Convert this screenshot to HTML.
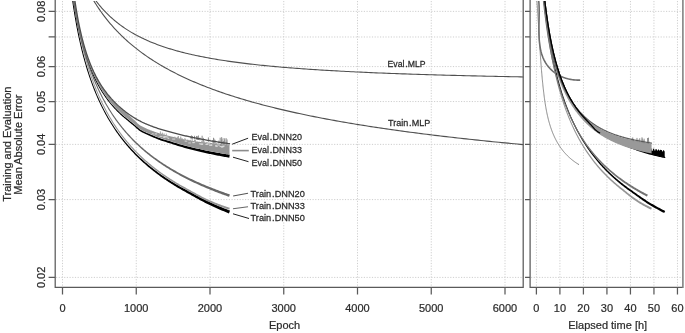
<!DOCTYPE html>
<html><head><meta charset="utf-8"><style>
html,body{margin:0;padding:0;background:#fff;width:685px;height:333px;overflow:hidden}
svg{display:block}
text{font-family:"Liberation Sans",sans-serif}
</style></head><body>
<svg width="685" height="333" viewBox="0 0 685 333"><defs><clipPath id="cl"><rect x="55.5" y="1" width="468" height="286"/></clipPath><clipPath id="cr"><rect x="530.5" y="1" width="152" height="286"/></clipPath></defs><path d="M56,277.40 H523 M531,277.40 H682 M56,199.59 H523 M531,199.59 H682 M56,144.39 H523 M531,144.39 H682 M56,101.56 H523 M531,101.56 H682 M56,66.58 H523 M531,66.58 H682 M56,36.99 H523 M531,36.99 H682 M56,11.37 H523 M531,11.37 H682 M62.50,1 V287 M136.25,1 V287 M210.00,1 V287 M283.75,1 V287 M357.50,1 V287 M431.25,1 V287 M505.00,1 V287 M536.40,1 V287 M559.91,1 V287 M583.42,1 V287 M606.93,1 V287 M630.44,1 V287 M653.95,1 V287 M677.46,1 V287" stroke="#cfcfcf" stroke-width="1" stroke-dasharray="1.2 1.5" fill="none"/><g clip-path="url(#cl)" fill="none" stroke-linejoin="round" stroke-linecap="round"><path d="M91.12,-5.98 L91.93,-4.76 L92.76,-3.56 L93.59,-2.37 L94.44,-1.19 L95.29,-0.02 L96.16,1.14 L97.04,2.28 L97.92,3.40 L98.82,4.52 L99.73,5.62 L100.65,6.71 L101.58,7.78 L102.52,8.84 L103.46,9.89 L104.42,10.92 L105.39,11.94 L106.38,12.95 L107.37,13.94 L108.37,14.92 L109.38,15.89 L110.40,16.84 L111.43,17.78 L112.48,18.71 L113.53,19.63 L114.59,20.53 L115.67,21.42 L116.75,22.30 L117.85,23.16 L118.95,24.01 L120.07,24.85 L121.19,25.68 L122.33,26.49 L123.48,27.30 L124.63,28.09 L125.80,28.87 L126.98,29.64 L128.17,30.39 L129.37,31.14 L130.57,31.87 L131.79,32.60 L133.02,33.31 L134.26,34.01 L135.51,34.70 L136.77,35.38 L138.05,36.05 L139.33,36.71 L140.62,37.36 L141.92,37.99 L143.23,38.62 L144.56,39.24 L145.89,39.85 L147.23,40.45 L148.59,41.04 L149.95,41.63 L151.33,42.20 L152.71,42.76 L154.11,43.32 L155.52,43.86 L156.93,44.40 L158.36,44.93 L159.80,45.45 L161.24,45.97 L162.70,46.47 L164.17,46.97 L165.65,47.46 L167.14,47.94 L168.64,48.41 L170.15,48.88 L171.67,49.34 L173.20,49.79 L174.74,50.24 L176.29,50.67 L177.85,51.11 L179.42,51.53 L181.01,51.95 L182.60,52.36 L184.20,52.77 L185.82,53.16 L187.44,53.56 L189.07,53.94 L190.72,54.32 L192.37,54.70 L194.04,55.07 L195.71,55.43 L197.40,55.79 L199.10,56.14 L200.80,56.49 L202.52,56.83 L204.25,57.16 L205.99,57.50 L207.74,57.82 L209.50,58.14 L211.26,58.46 L213.04,58.77 L214.83,59.08 L216.63,59.38 L218.45,59.67 L220.27,59.97 L222.10,60.26 L223.94,60.54 L225.79,60.82 L227.65,61.09 L229.53,61.37 L231.41,61.63 L233.31,61.90 L235.21,62.16 L237.12,62.41 L239.05,62.66 L240.98,62.91 L242.93,63.16 L244.89,63.40 L246.85,63.63 L248.83,63.87 L250.82,64.10 L252.81,64.32 L254.82,64.55 L256.84,64.77 L258.87,64.98 L260.91,65.20 L262.96,65.41 L265.02,65.62 L267.09,65.82 L269.17,66.02 L271.26,66.22 L273.36,66.42 L275.47,66.61 L277.59,66.80 L279.73,66.99 L281.87,67.18 L284.02,67.36 L286.19,67.54 L288.36,67.72 L290.54,67.89 L292.74,68.06 L294.94,68.23 L297.16,68.40 L299.38,68.57 L301.62,68.73 L303.87,68.89 L306.12,69.05 L308.39,69.21 L310.67,69.36 L312.96,69.51 L315.26,69.66 L317.56,69.81 L319.88,69.96 L322.21,70.10 L324.55,70.24 L326.90,70.38 L329.26,70.52 L331.64,70.66 L334.02,70.79 L336.41,70.92 L338.81,71.06 L341.22,71.18 L343.65,71.31 L346.08,71.44 L348.52,71.56 L350.98,71.68 L353.44,71.81 L355.92,71.93 L358.40,72.04 L360.90,72.16 L363.40,72.27 L365.92,72.39 L368.45,72.50 L370.98,72.61 L373.53,72.72 L376.09,72.83 L378.66,72.93 L381.24,73.04 L383.83,73.14 L386.43,73.24 L389.04,73.34 L391.66,73.44 L394.29,73.54 L396.93,73.64 L399.58,73.73 L402.24,73.83 L404.91,73.92 L407.59,74.02 L410.29,74.11 L412.99,74.20 L415.70,74.29 L418.43,74.37 L421.16,74.46 L423.91,74.55 L426.66,74.63 L429.43,74.71 L432.20,74.80 L434.99,74.88 L437.79,74.96 L440.59,75.04 L443.41,75.12 L446.24,75.20 L449.08,75.27 L451.92,75.35 L454.78,75.42 L457.65,75.50 L460.53,75.57 L463.42,75.64 L466.32,75.71 L469.23,75.78 L472.15,75.85 L475.09,75.92 L478.03,75.99 L480.98,76.06 L483.94,76.13 L486.92,76.19 L489.90,76.26 L492.89,76.32 L495.90,76.38 L498.91,76.45 L501.94,76.51 L504.97,76.57 L508.02,76.63 L511.07,76.69 L514.14,76.75 L517.22,76.81 L520.30,76.87 L523.40,76.93" stroke="#505050" stroke-width="1.1"/><path d="M90.31,-5.19 L91.12,-3.76 L91.93,-2.35 L92.76,-0.94 L93.59,0.45 L94.44,1.84 L95.29,3.21 L96.16,4.57 L97.04,5.93 L97.92,7.27 L98.82,8.60 L99.73,9.92 L100.65,11.23 L101.58,12.53 L102.52,13.83 L103.46,15.11 L104.42,16.38 L105.39,17.64 L106.38,18.88 L107.37,20.12 L108.37,21.35 L109.38,22.57 L110.40,23.78 L111.43,24.98 L112.48,26.17 L113.53,27.35 L114.59,28.52 L115.67,29.67 L116.75,30.82 L117.85,31.96 L118.95,33.09 L120.07,34.21 L121.19,35.32 L122.33,36.43 L123.48,37.52 L124.63,38.60 L125.80,39.68 L126.98,40.74 L128.17,41.80 L129.37,42.84 L130.57,43.88 L131.79,44.91 L133.02,45.93 L134.26,46.94 L135.51,47.94 L136.77,48.94 L138.05,49.92 L139.33,50.90 L140.62,51.87 L141.92,52.83 L143.23,53.78 L144.56,54.73 L145.89,55.66 L147.23,56.59 L148.59,57.51 L149.95,58.43 L151.33,59.33 L152.71,60.23 L154.11,61.12 L155.52,62.01 L156.93,62.88 L158.36,63.75 L159.80,64.61 L161.24,65.46 L162.70,66.31 L164.17,67.15 L165.65,67.98 L167.14,68.81 L168.64,69.63 L170.15,70.44 L171.67,71.25 L173.20,72.05 L174.74,72.84 L176.29,73.63 L177.85,74.41 L179.42,75.18 L181.01,75.95 L182.60,76.71 L184.20,77.46 L185.82,78.21 L187.44,78.96 L189.07,79.69 L190.72,80.42 L192.37,81.15 L194.04,81.87 L195.71,82.58 L197.40,83.29 L199.10,83.99 L200.80,84.69 L202.52,85.38 L204.25,86.07 L205.99,86.75 L207.74,87.42 L209.50,88.09 L211.26,88.76 L213.04,89.42 L214.83,90.07 L216.63,90.72 L218.45,91.37 L220.27,92.01 L222.10,92.64 L223.94,93.27 L225.79,93.90 L227.65,94.52 L229.53,95.13 L231.41,95.74 L233.31,96.35 L235.21,96.95 L237.12,97.55 L239.05,98.14 L240.98,98.73 L242.93,99.31 L244.89,99.89 L246.85,100.47 L248.83,101.04 L250.82,101.61 L252.81,102.17 L254.82,102.73 L256.84,103.28 L258.87,103.83 L260.91,104.38 L262.96,104.92 L265.02,105.46 L267.09,106.00 L269.17,106.53 L271.26,107.06 L273.36,107.58 L275.47,108.10 L277.59,108.61 L279.73,109.13 L281.87,109.64 L284.02,110.14 L286.19,110.64 L288.36,111.14 L290.54,111.63 L292.74,112.13 L294.94,112.61 L297.16,113.10 L299.38,113.58 L301.62,114.06 L303.87,114.53 L306.12,115.00 L308.39,115.47 L310.67,115.93 L312.96,116.39 L315.26,116.85 L317.56,117.31 L319.88,117.76 L322.21,118.21 L324.55,118.65 L326.90,119.10 L329.26,119.54 L331.64,119.97 L334.02,120.41 L336.41,120.84 L338.81,121.27 L341.22,121.69 L343.65,122.12 L346.08,122.54 L348.52,122.95 L350.98,123.37 L353.44,123.78 L355.92,124.19 L358.40,124.60 L360.90,125.00 L363.40,125.40 L365.92,125.80 L368.45,126.20 L370.98,126.59 L373.53,126.98 L376.09,127.37 L378.66,127.75 L381.24,128.14 L383.83,128.52 L386.43,128.90 L389.04,129.27 L391.66,129.65 L394.29,130.02 L396.93,130.39 L399.58,130.76 L402.24,131.12 L404.91,131.48 L407.59,131.84 L410.29,132.20 L412.99,132.56 L415.70,132.91 L418.43,133.26 L421.16,133.61 L423.91,133.96 L426.66,134.30 L429.43,134.65 L432.20,134.99 L434.99,135.33 L437.79,135.66 L440.59,136.00 L443.41,136.33 L446.24,136.66 L449.08,136.99 L451.92,137.32 L454.78,137.64 L457.65,137.96 L460.53,138.28 L463.42,138.60 L466.32,138.92 L469.23,139.24 L472.15,139.55 L475.09,139.86 L478.03,140.17 L480.98,140.48 L483.94,140.79 L486.92,141.09 L489.90,141.39 L492.89,141.69 L495.90,141.99 L498.91,142.29 L501.94,142.59 L504.97,142.88 L508.02,143.17 L511.07,143.46 L514.14,143.75 L517.22,144.04 L520.30,144.33 L523.40,144.61" stroke="#505050" stroke-width="1.1"/><path d="M71.53,-3.86 L71.84,-1.61 L72.15,0.61 L72.47,2.81 L72.79,4.99 L73.12,7.14 L73.44,9.26 L73.78,11.37 L74.11,13.45 L74.45,15.51 L74.80,17.54 L75.15,19.55 L75.50,21.55 L75.86,23.52 L76.21,25.47 L76.58,27.39 L76.95,29.30 L77.32,31.19 L77.69,33.06 L78.07,34.91 L78.45,36.73 L78.84,38.54 L79.23,40.33 L79.62,42.11 L80.02,43.86 L80.42,45.60 L80.83,47.31 L81.24,49.02 L81.65,50.70 L82.07,52.37 L82.49,54.02 L82.91,55.65 L83.34,57.27 L83.77,58.87 L84.21,60.45 L84.65,62.02 L85.09,63.58 L85.54,65.12 L85.99,66.64 L86.45,68.15 L86.90,69.64 L87.37,71.13 L87.83,72.59 L88.30,74.04 L88.78,75.48 L89.26,76.91 L89.74,78.32 L90.22,79.72 L90.71,81.10 L91.21,82.48 L91.70,83.84 L92.20,85.19 L92.71,86.52 L93.22,87.84 L93.73,89.16 L94.25,90.45 L94.77,91.74 L95.29,93.02 L95.82,94.28 L96.35,95.54 L96.88,96.78 L97.42,98.01 L97.97,99.23 L98.51,100.44 L99.06,101.64 L99.62,102.83 L100.18,104.01 L100.74,105.17 L101.31,106.33 L101.87,107.48 L102.45,108.62 L103.03,109.75 L103.61,110.87 L104.19,111.98 L104.78,113.08 L105.37,114.17 L105.97,115.25 L106.57,116.33 L107.17,117.39 L107.78,118.45 L108.39,119.49 L109.01,120.53 L109.63,121.56 L110.25,122.59 L110.87,123.60 L111.50,124.61 L112.13,125.61 L112.76,126.60 L113.40,127.59 L114.04,128.56 L114.69,129.53 L115.34,130.49 L115.99,131.45 L116.65,132.39 L117.31,133.33 L117.97,134.26 L118.64,135.19 L119.31,136.11 L119.99,137.02 L120.67,137.92 L121.35,138.82 L122.04,139.71 L122.73,140.59 L123.43,141.47 L124.13,142.34 L124.83,143.21 L125.54,144.06 L126.25,144.91 L126.97,145.76 L127.68,146.60 L128.41,147.43 L129.13,148.26 L129.86,149.08 L130.60,149.89 L131.33,150.70 L132.08,151.51 L132.82,152.30 L133.57,153.10 L134.32,153.88 L135.08,154.66 L135.84,155.44 L136.61,156.21 L137.38,156.97 L138.15,157.73 L138.92,158.49 L139.70,159.23 L140.49,159.98 L141.28,160.72 L142.07,161.45 L142.86,162.18 L143.66,162.90 L144.46,163.62 L145.27,164.33 L146.08,165.04 L146.90,165.74 L147.72,166.44 L148.54,167.14 L149.36,167.83 L150.19,168.51 L151.03,169.19 L151.87,169.87 L152.71,170.54 L153.55,171.21 L154.40,171.87 L155.25,172.53 L156.11,173.19 L156.97,173.84 L157.84,174.48 L158.70,175.12 L159.58,175.76 L160.45,176.39 L161.33,177.02 L162.22,177.65 L163.10,178.27 L163.99,178.89 L164.89,179.50 L165.79,180.11 L166.69,180.72 L167.60,181.32 L168.51,181.92 L169.42,182.51 L170.34,183.10 L171.26,183.69 L172.19,184.27 L173.12,184.85 L174.05,185.43 L174.99,186.00 L175.93,186.57 L176.87,187.14 L177.82,187.70 L178.78,188.26 L179.73,188.82 L180.69,189.37 L181.66,189.92 L182.62,190.46 L183.60,191.01 L184.57,191.55 L185.54,192.08 L186.52,192.63 L187.50,193.17 L188.49,193.72 L189.48,194.28 L190.47,194.83 L191.47,195.39 L192.47,195.95 L193.48,196.52 L194.49,197.08 L195.50,197.64 L196.52,198.21 L197.54,198.77 L198.57,199.33 L199.60,199.90 L200.64,200.45 L201.68,201.01 L202.73,201.56 L203.77,202.11 L204.83,202.65 L205.89,203.19 L206.95,203.72 L208.02,204.24 L209.09,204.76 L210.16,205.27 L211.24,205.77 L212.31,206.27 L213.40,206.77 L214.48,207.27 L215.57,207.76 L216.67,208.25 L217.77,208.73 L218.87,209.21 L219.97,209.69 L221.08,210.17 L222.20,210.64 L223.31,211.11 L224.43,211.58 L225.56,212.04 L226.69,212.50 L227.82,212.96 L228.96,213.41 L230.04,210.61 L228.91,210.18 L227.78,209.74 L226.65,209.31 L225.53,208.87 L224.41,208.42 L223.30,207.97 L222.19,207.52 L221.08,207.07 L219.98,206.61 L218.88,206.15 L217.78,205.68 L216.69,205.22 L215.60,204.74 L214.52,204.27 L213.44,203.79 L212.36,203.31 L211.29,202.83 L210.22,202.34 L209.16,201.85 L208.10,201.35 L207.05,200.84 L205.99,200.33 L204.94,199.81 L203.90,199.28 L202.86,198.75 L201.82,198.22 L200.78,197.68 L199.75,197.14 L198.72,196.59 L197.69,196.05 L196.67,195.50 L195.65,194.95 L194.64,194.41 L193.62,193.86 L192.61,193.31 L191.61,192.77 L190.61,192.23 L189.61,191.69 L188.61,191.15 L187.62,190.62 L186.63,190.09 L185.65,189.56 L184.67,189.04 L183.70,188.52 L182.73,187.99 L181.77,187.46 L180.81,186.93 L179.85,186.39 L178.90,185.85 L177.95,185.30 L177.01,184.76 L176.07,184.20 L175.13,183.65 L174.20,183.09 L173.27,182.53 L172.34,181.96 L171.42,181.40 L170.50,180.82 L169.58,180.25 L168.67,179.67 L167.77,179.08 L166.86,178.49 L165.96,177.90 L165.07,177.31 L164.18,176.71 L163.29,176.10 L162.40,175.49 L161.52,174.88 L160.65,174.27 L159.77,173.65 L158.91,173.02 L158.04,172.39 L157.18,171.76 L156.32,171.12 L155.47,170.48 L154.62,169.84 L153.77,169.19 L152.93,168.53 L152.09,167.87 L151.25,167.21 L150.42,166.54 L149.59,165.87 L148.77,165.19 L147.95,164.50 L147.13,163.82 L146.32,163.12 L145.51,162.43 L144.71,161.73 L143.90,161.02 L143.11,160.31 L142.31,159.59 L141.52,158.87 L140.74,158.14 L139.95,157.41 L139.18,156.67 L138.40,155.92 L137.63,155.17 L136.86,154.42 L136.10,153.66 L135.34,152.89 L134.58,152.12 L133.83,151.35 L133.08,150.56 L132.34,149.77 L131.59,148.98 L130.86,148.18 L130.12,147.37 L129.39,146.56 L128.67,145.74 L127.94,144.92 L127.23,144.09 L126.51,143.25 L125.80,142.40 L125.09,141.55 L124.39,140.70 L123.69,139.83 L122.99,138.96 L122.30,138.08 L121.61,137.20 L120.93,136.31 L120.25,135.41 L119.57,134.51 L118.90,133.59 L118.23,132.67 L117.56,131.75 L116.90,130.81 L116.24,129.87 L115.59,128.92 L114.94,127.97 L114.29,127.00 L113.65,126.03 L113.01,125.05 L112.37,124.06 L111.74,123.06 L111.11,122.06 L110.49,121.04 L109.87,120.02 L109.26,118.99 L108.65,117.94 L108.04,116.89 L107.44,115.83 L106.84,114.77 L106.25,113.69 L105.66,112.60 L105.08,111.51 L104.49,110.40 L103.91,109.29 L103.34,108.17 L102.77,107.03 L102.20,105.89 L101.64,104.74 L101.08,103.58 L100.52,102.40 L99.97,101.22 L99.42,100.03 L98.88,98.82 L98.34,97.61 L97.80,96.38 L97.27,95.14 L96.74,93.89 L96.21,92.64 L95.69,91.36 L95.17,90.08 L94.66,88.79 L94.15,87.48 L93.64,86.16 L93.14,84.83 L92.64,83.49 L92.15,82.14 L91.66,80.77 L91.17,79.39 L90.68,77.99 L90.20,76.59 L89.73,75.17 L89.25,73.73 L88.79,72.29 L88.32,70.82 L87.86,69.35 L87.40,67.86 L86.95,66.35 L86.50,64.83 L86.05,63.30 L85.61,61.75 L85.17,60.19 L84.74,58.60 L84.31,57.01 L83.88,55.40 L83.46,53.77 L83.04,52.12 L82.62,50.46 L82.21,48.78 L81.80,47.08 L81.40,45.37 L81.00,43.64 L80.60,41.89 L80.21,40.12 L79.82,38.33 L79.43,36.53 L79.05,34.70 L78.67,32.86 L78.30,30.99 L77.93,29.11 L77.56,27.21 L77.20,25.28 L76.84,23.34 L76.48,21.37 L76.13,19.38 L75.78,17.37 L75.44,15.34 L75.10,13.29 L74.76,11.21 L74.43,9.11 L74.10,6.99 L73.78,4.84 L73.46,2.67 L73.14,0.47 L72.83,-1.75 L72.52,-4.00 Z" fill="#000"/><path d="M72.47,-4.69 L72.79,-2.46 L73.12,-0.26 L73.44,1.92 L73.78,4.06 L74.11,6.17 L74.45,8.26 L74.80,10.31 L75.15,12.33 L75.50,14.33 L75.86,16.30 L76.21,18.24 L76.58,20.15 L76.95,22.04 L77.32,23.89 L77.69,25.73 L78.07,27.53 L78.45,29.32 L78.84,31.07 L79.23,32.80 L79.62,34.51 L80.02,36.19 L80.42,37.85 L80.83,39.49 L81.24,41.10 L81.65,42.69 L82.07,44.26 L82.49,45.81 L82.91,47.33 L83.34,48.84 L83.78,50.32 L84.21,51.78 L84.65,53.23 L85.10,54.65 L85.54,56.05 L86.00,57.43 L86.45,58.80 L86.91,60.14 L87.37,61.47 L87.84,62.78 L88.31,64.07 L88.79,65.34 L89.26,66.60 L89.75,67.84 L90.23,69.06 L90.72,70.26 L91.22,71.45 L91.71,72.63 L92.21,73.78 L92.72,74.92 L93.23,76.05 L93.74,77.16 L94.26,78.26 L94.78,79.34 L95.30,80.41 L95.83,81.46 L96.37,82.50 L96.90,83.53 L97.44,84.54 L97.99,85.54 L98.53,86.53 L99.08,87.50 L99.64,88.46 L100.20,89.41 L100.76,90.34 L101.33,91.27 L101.90,92.18 L102.47,93.08 L103.05,93.97 L103.63,94.85 L104.22,95.71 L104.81,96.57 L105.40,97.41 L106.00,98.25 L106.60,99.07 L107.21,99.88 L107.82,100.69 L108.43,101.48 L109.05,102.26 L109.67,103.03 L110.29,103.80 L110.91,104.56 L111.54,105.31 L112.17,106.04 L112.81,106.77 L113.45,107.50 L114.09,108.21 L114.74,108.91 L115.39,109.61 L116.05,110.29 L116.71,110.97 L117.37,111.64 L118.04,112.31 L118.71,112.96 L119.38,113.61 L120.06,114.25 L120.74,114.88 L121.43,115.51 L122.12,116.13 L122.81,116.74 L123.51,117.34 L124.21,117.94 L124.92,118.53 L125.63,119.11 L126.33,119.69 L127.05,120.28 L127.76,120.87 L128.48,121.47 L129.21,122.08 L129.94,122.68 L130.67,123.29 L131.41,123.89 L132.15,124.50 L132.89,125.09 L133.62,125.71 L134.36,126.36 L135.11,127.04 L135.87,127.73 L136.64,128.42 L137.41,129.10 L138.20,129.76 L138.99,130.38 L139.80,130.97 L140.62,131.48 L141.42,131.95 L142.23,132.39 L143.03,132.81 L143.84,133.21 L144.65,133.60 L145.47,133.98 L146.28,134.36 L147.10,134.72 L147.92,135.09 L148.74,135.45 L149.56,135.82 L150.39,136.19 L151.22,136.56 L152.06,136.93 L152.90,137.29 L153.75,137.66 L154.60,138.01 L155.46,138.37 L156.32,138.72 L157.18,139.06 L158.05,139.40 L158.92,139.74 L159.80,140.07 L160.69,140.38 L161.58,140.69 L162.47,140.99 L163.36,141.28 L164.25,141.56 L165.15,141.84 L166.05,142.11 L166.95,142.38 L167.86,142.66 L168.76,142.94 L169.67,143.22 L170.58,143.51 L171.49,143.81 L172.41,144.12 L173.34,144.43 L174.28,144.74 L175.21,145.04 L176.16,145.34 L177.10,145.64 L178.05,145.93 L179.01,146.22 L179.97,146.51 L180.93,146.80 L181.89,147.08 L182.86,147.37 L183.83,147.65 L184.81,147.92 L185.79,148.20 L186.78,148.47 L187.76,148.74 L188.76,149.01 L189.75,149.27 L190.75,149.53 L191.75,149.79 L192.76,150.05 L193.77,150.31 L194.79,150.56 L195.80,150.81 L196.83,151.06 L197.85,151.31 L198.88,151.55 L199.92,151.80 L200.95,152.04 L202.00,152.28 L203.04,152.52 L204.09,152.75 L205.14,152.98 L206.20,153.22 L207.26,153.45 L208.32,153.67 L209.39,153.90 L210.46,154.12 L211.54,154.35 L212.62,154.57 L213.70,154.79 L214.79,155.00 L215.88,155.22 L216.97,155.43 L218.07,155.64 L219.17,155.86 L220.28,156.06 L221.39,156.27 L222.50,156.48 L223.62,156.68 L224.74,156.88 L225.86,157.08 L226.99,157.28 L228.12,157.48 L229.26,157.68 L229.74,154.72 L228.61,154.54 L227.48,154.36 L226.35,154.18 L225.23,154.00 L224.11,153.82 L223.00,153.63 L221.89,153.45 L220.78,153.26 L219.68,153.07 L218.58,152.88 L217.48,152.68 L216.39,152.49 L215.30,152.29 L214.22,152.10 L213.14,151.90 L212.06,151.69 L210.99,151.49 L209.92,151.28 L208.85,151.08 L207.79,150.87 L206.73,150.66 L205.68,150.44 L204.63,150.23 L203.58,150.01 L202.54,149.79 L201.50,149.57 L200.47,149.35 L199.44,149.12 L198.41,148.90 L197.39,148.67 L196.37,148.44 L195.35,148.20 L194.34,147.97 L193.33,147.73 L192.33,147.49 L191.33,147.25 L190.33,147.00 L189.34,146.76 L188.35,146.51 L187.36,146.26 L186.38,146.00 L185.41,145.74 L184.43,145.49 L183.46,145.22 L182.50,144.96 L181.53,144.69 L180.57,144.42 L179.62,144.15 L178.67,143.88 L177.72,143.60 L176.78,143.32 L175.84,143.04 L174.90,142.75 L173.97,142.46 L173.04,142.17 L172.11,141.88 L171.18,141.59 L170.26,141.30 L169.33,141.03 L168.42,140.77 L167.51,140.51 L166.60,140.25 L165.70,139.99 L164.81,139.73 L163.92,139.46 L163.04,139.19 L162.16,138.92 L161.29,138.63 L160.42,138.33 L159.56,138.03 L158.69,137.71 L157.83,137.39 L156.97,137.06 L156.12,136.73 L155.27,136.39 L154.42,136.05 L153.57,135.70 L152.73,135.36 L151.89,135.00 L151.06,134.65 L150.23,134.29 L149.40,133.94 L148.57,133.59 L147.75,133.23 L146.94,132.88 L146.13,132.53 L145.32,132.17 L144.53,131.80 L143.73,131.41 L142.95,131.02 L142.16,130.60 L141.39,130.18 L140.64,129.71 L139.88,129.19 L139.12,128.60 L138.36,127.98 L137.60,127.33 L136.83,126.65 L136.07,125.97 L135.30,125.30 L134.53,124.64 L133.76,124.01 L133.01,123.42 L132.26,122.83 L131.52,122.24 L130.78,121.64 L130.05,121.05 L129.32,120.46 L128.59,119.86 L127.86,119.28 L127.14,118.69 L126.42,118.12 L125.71,117.55 L125.01,116.98 L124.31,116.40 L123.61,115.81 L122.92,115.22 L122.23,114.61 L121.54,114.00 L120.86,113.39 L120.18,112.76 L119.50,112.13 L118.83,111.49 L118.17,110.84 L117.50,110.19 L116.84,109.52 L116.19,108.85 L115.53,108.17 L114.88,107.48 L114.24,106.78 L113.60,106.07 L112.96,105.36 L112.33,104.63 L111.70,103.90 L111.07,103.16 L110.45,102.40 L109.83,101.64 L109.22,100.86 L108.61,100.08 L108.01,99.28 L107.41,98.48 L106.81,97.66 L106.22,96.83 L105.63,96.00 L105.05,95.15 L104.47,94.29 L103.89,93.42 L103.31,92.54 L102.74,91.65 L102.18,90.74 L101.62,89.83 L101.06,88.90 L100.50,87.96 L99.95,87.00 L99.40,86.04 L98.86,85.06 L98.32,84.07 L97.79,83.06 L97.25,82.04 L96.72,81.01 L96.20,79.96 L95.68,78.90 L95.16,77.83 L94.65,76.74 L94.14,75.64 L93.63,74.52 L93.13,73.38 L92.63,72.23 L92.14,71.07 L91.65,69.88 L91.16,68.68 L90.68,67.47 L90.20,66.24 L89.72,64.99 L89.25,63.72 L88.78,62.44 L88.32,61.14 L87.85,59.82 L87.40,58.48 L86.94,57.12 L86.50,55.74 L86.05,54.35 L85.61,52.93 L85.17,51.49 L84.73,50.04 L84.30,48.56 L83.88,47.06 L83.45,45.54 L83.03,44.00 L82.62,42.44 L82.21,40.86 L81.80,39.25 L81.40,37.62 L80.99,35.96 L80.60,34.28 L80.21,32.58 L79.82,30.86 L79.43,29.10 L79.05,27.33 L78.67,25.52 L78.30,23.70 L77.93,21.84 L77.56,19.96 L77.20,18.05 L76.84,16.12 L76.48,14.15 L76.13,12.16 L75.79,10.14 L75.44,8.09 L75.10,6.01 L74.77,3.90 L74.43,1.77 L74.10,-0.40 L73.78,-2.60 L73.46,-4.84 Z" fill="#000"/><path d="M72.47,-4.38 L72.79,-2.13 L73.12,0.09 L73.44,2.29 L73.78,4.47 L74.11,6.62 L74.45,8.75 L74.80,10.85 L75.15,12.94 L75.50,15.00 L75.85,17.03 L76.21,19.05 L76.58,21.04 L76.95,23.01 L77.32,24.96 L77.69,26.89 L78.07,28.80 L78.45,30.69 L78.84,32.56 L79.23,34.41 L79.62,36.24 L80.02,38.05 L80.42,39.84 L80.83,41.62 L81.24,43.37 L81.65,45.11 L82.07,46.83 L82.49,48.53 L82.91,50.22 L83.34,51.89 L83.77,53.54 L84.21,55.17 L84.65,56.79 L85.09,58.40 L85.54,59.98 L85.99,61.55 L86.44,63.11 L86.90,64.65 L87.37,66.18 L87.83,67.69 L88.30,69.19 L88.78,70.67 L89.26,72.14 L89.74,73.59 L90.22,75.03 L90.71,76.46 L91.21,77.87 L91.70,79.27 L92.20,80.66 L92.71,82.03 L93.22,83.39 L93.73,84.74 L94.24,86.08 L94.76,87.40 L95.29,88.72 L95.82,90.02 L96.35,91.31 L96.88,92.58 L97.42,93.85 L97.96,95.10 L98.51,96.35 L99.06,97.58 L99.62,98.80 L100.17,100.01 L100.74,101.21 L101.30,102.40 L101.87,103.58 L102.45,104.75 L103.02,105.91 L103.60,107.06 L104.19,108.20 L104.78,109.33 L105.37,110.45 L105.97,111.56 L106.57,112.66 L107.17,113.75 L107.78,114.83 L108.39,115.91 L109.01,116.97 L109.63,118.03 L110.25,119.07 L110.87,120.11 L111.50,121.15 L112.13,122.17 L112.77,123.18 L113.41,124.19 L114.05,125.19 L114.70,126.18 L115.35,127.16 L116.01,128.14 L116.67,129.10 L117.33,130.06 L118.00,131.01 L118.67,131.96 L119.34,132.90 L120.02,133.82 L120.70,134.75 L121.39,135.66 L122.08,136.57 L122.77,137.47 L123.47,138.37 L124.17,139.25 L124.88,140.13 L125.59,141.01 L126.30,141.88 L127.02,142.74 L127.74,143.59 L128.46,144.44 L129.19,145.28 L129.92,146.12 L130.66,146.95 L131.40,147.77 L132.14,148.59 L132.89,149.40 L133.64,150.20 L134.39,151.00 L135.15,151.79 L135.92,152.58 L136.68,153.36 L137.45,154.14 L138.23,154.91 L139.00,155.68 L139.79,156.44 L140.57,157.19 L141.36,157.94 L142.15,158.68 L142.95,159.42 L143.75,160.15 L144.56,160.88 L145.37,161.61 L146.18,162.32 L146.99,163.04 L147.81,163.74 L148.64,164.45 L149.47,165.15 L150.30,165.84 L151.13,166.53 L151.97,167.21 L152.81,167.89 L153.66,168.57 L154.51,169.24 L155.37,169.90 L156.22,170.56 L157.09,171.22 L157.95,171.87 L158.82,172.52 L159.69,173.16 L160.57,173.80 L161.45,174.44 L162.34,175.07 L163.23,175.70 L164.12,176.32 L165.02,176.94 L165.92,177.55 L166.82,178.16 L167.73,178.77 L168.64,179.37 L169.55,179.97 L170.47,180.57 L171.40,181.16 L172.32,181.74 L173.25,182.33 L174.19,182.91 L175.13,183.48 L176.07,184.06 L177.01,184.63 L177.96,185.19 L178.92,185.75 L179.87,186.31 L180.84,186.87 L181.80,187.42 L182.77,187.97 L183.74,188.51 L184.72,189.05 L185.69,189.59 L186.67,190.14 L187.65,190.69 L188.64,191.24 L189.63,191.80 L190.63,192.36 L191.63,192.93 L192.63,193.49 L193.64,194.06 L194.66,194.62 L195.67,195.19 L196.69,195.75 L197.72,196.31 L198.75,196.87 L199.78,197.43 L200.82,197.98 L201.86,198.52 L202.91,199.06 L203.96,199.59 L205.02,200.11 L206.08,200.63 L207.14,201.13 L208.21,201.62 L209.29,202.10 L210.36,202.57 L211.44,203.03 L212.52,203.49 L213.60,203.94 L214.69,204.39 L215.78,204.83 L216.88,205.27 L217.98,205.70 L219.08,206.13 L220.19,206.55 L221.30,206.97 L222.42,207.38 L223.54,207.78 L224.66,208.18 L225.79,208.57 L226.92,208.96 L228.06,209.34 L229.19,209.71 L229.81,207.80 L228.67,207.44 L227.55,207.08 L226.42,206.70 L225.30,206.32 L224.19,205.94 L223.08,205.55 L221.97,205.15 L220.86,204.75 L219.76,204.34 L218.67,203.92 L217.57,203.50 L216.48,203.08 L215.39,202.65 L214.31,202.21 L213.23,201.77 L212.16,201.32 L211.09,200.87 L210.02,200.42 L208.96,199.96 L207.91,199.48 L206.85,198.99 L205.80,198.49 L204.76,197.99 L203.71,197.47 L202.67,196.94 L201.64,196.41 L200.60,195.87 L199.57,195.33 L198.54,194.78 L197.52,194.23 L196.50,193.68 L195.48,193.12 L194.47,192.57 L193.46,192.01 L192.45,191.45 L191.45,190.90 L190.45,190.34 L189.45,189.79 L188.46,189.24 L187.47,188.70 L186.48,188.16 L185.50,187.62 L184.52,187.09 L183.55,186.56 L182.59,186.02 L181.63,185.48 L180.67,184.93 L179.71,184.39 L178.76,183.84 L177.81,183.28 L176.87,182.72 L175.93,182.16 L174.99,181.59 L174.06,181.02 L173.13,180.45 L172.21,179.87 L171.29,179.29 L170.37,178.71 L169.46,178.12 L168.55,177.53 L167.64,176.93 L166.74,176.33 L165.84,175.73 L164.95,175.12 L164.05,174.51 L163.17,173.89 L162.28,173.27 L161.41,172.64 L160.53,172.02 L159.66,171.38 L158.79,170.74 L157.93,170.10 L157.07,169.46 L156.21,168.81 L155.36,168.15 L154.51,167.49 L153.66,166.83 L152.82,166.16 L151.98,165.48 L151.15,164.80 L150.32,164.12 L149.49,163.43 L148.67,162.74 L147.85,162.04 L147.04,161.34 L146.23,160.63 L145.42,159.92 L144.62,159.20 L143.82,158.48 L143.02,157.75 L142.23,157.02 L141.44,156.28 L140.65,155.53 L139.87,154.78 L139.10,154.03 L138.32,153.27 L137.55,152.50 L136.79,151.73 L136.03,150.95 L135.27,150.17 L134.51,149.38 L133.76,148.58 L133.02,147.78 L132.27,146.97 L131.53,146.16 L130.80,145.34 L130.07,144.51 L129.34,143.68 L128.61,142.84 L127.89,142.00 L127.18,141.15 L126.46,140.29 L125.75,139.42 L125.05,138.55 L124.35,137.67 L123.65,136.79 L122.96,135.90 L122.27,135.00 L121.58,134.09 L120.90,133.18 L120.22,132.26 L119.54,131.33 L118.87,130.39 L118.20,129.45 L117.54,128.50 L116.88,127.54 L116.22,126.58 L115.57,125.60 L114.92,124.62 L114.28,123.63 L113.64,122.63 L113.00,121.63 L112.37,120.61 L111.74,119.59 L111.11,118.56 L110.49,117.52 L109.87,116.47 L109.26,115.41 L108.65,114.34 L108.05,113.26 L107.44,112.18 L106.85,111.08 L106.25,109.98 L105.66,108.86 L105.08,107.74 L104.50,106.60 L103.92,105.46 L103.34,104.31 L102.77,103.14 L102.20,101.97 L101.64,100.78 L101.08,99.59 L100.53,98.38 L99.97,97.17 L99.43,95.94 L98.88,94.70 L98.34,93.45 L97.80,92.19 L97.27,90.92 L96.74,89.64 L96.22,88.34 L95.69,87.04 L95.18,85.72 L94.66,84.39 L94.15,83.04 L93.65,81.69 L93.14,80.32 L92.64,78.93 L92.15,77.54 L91.66,76.13 L91.17,74.71 L90.69,73.27 L90.21,71.82 L89.73,70.36 L89.26,68.88 L88.79,67.39 L88.32,65.89 L87.86,64.36 L87.40,62.83 L86.95,61.28 L86.50,59.71 L86.05,58.13 L85.61,56.53 L85.17,54.91 L84.74,53.28 L84.31,51.64 L83.88,49.97 L83.46,48.29 L83.04,46.59 L82.62,44.88 L82.21,43.14 L81.80,41.39 L81.40,39.62 L81.00,37.83 L80.60,36.03 L80.21,34.20 L79.82,32.36 L79.43,30.49 L79.05,28.61 L78.67,26.70 L78.30,24.77 L77.93,22.83 L77.56,20.86 L77.20,18.87 L76.84,16.86 L76.48,14.82 L76.13,12.77 L75.79,10.69 L75.44,8.59 L75.10,6.46 L74.77,4.32 L74.43,2.14 L74.10,-0.05 L73.78,-2.28 L73.46,-4.53 Z" fill="#959595"/><path d="M72.10,-4.28 L72.42,-2.23 L72.74,-0.19 L73.07,1.82 L73.40,3.81 L73.73,5.79 L74.07,7.74 L74.41,9.68 L74.75,11.59 L75.10,13.49 L75.45,15.37 L75.81,17.23 L76.17,19.07 L76.53,20.90 L76.90,22.70 L77.27,24.49 L77.64,26.26 L78.02,28.01 L78.41,29.75 L78.79,31.47 L79.18,33.17 L79.58,34.86 L79.97,36.53 L80.38,38.18 L80.78,39.82 L81.19,41.44 L81.60,43.05 L82.02,44.64 L82.44,46.22 L82.87,47.78 L83.29,49.32 L83.73,50.85 L84.16,52.37 L84.60,53.87 L85.05,55.36 L85.49,56.84 L85.94,58.30 L86.40,59.75 L86.86,61.18 L87.32,62.60 L87.79,64.01 L88.26,65.40 L88.73,66.78 L89.21,68.15 L89.69,69.51 L90.18,70.85 L90.67,72.18 L91.16,73.50 L91.66,74.81 L92.16,76.10 L92.67,77.39 L93.17,78.66 L93.69,79.92 L94.20,81.17 L94.72,82.41 L95.25,83.64 L95.77,84.86 L96.31,86.06 L96.84,87.26 L97.38,88.44 L97.92,89.62 L98.47,90.78 L99.02,91.94 L99.58,93.08 L100.14,94.22 L100.70,95.34 L101.26,96.46 L101.83,97.56 L102.41,98.66 L102.99,99.75 L103.57,100.83 L104.15,101.90 L104.74,102.96 L105.33,104.01 L105.93,105.05 L106.53,106.08 L107.14,107.11 L107.74,108.12 L108.36,109.13 L108.97,110.13 L109.59,111.12 L110.21,112.11 L110.84,113.09 L111.46,114.06 L112.10,115.02 L112.73,115.97 L113.37,116.92 L114.02,117.86 L114.66,118.79 L115.31,119.72 L115.97,120.63 L116.63,121.54 L117.29,122.44 L117.96,123.34 L118.63,124.23 L119.30,125.11 L119.98,125.98 L120.66,126.85 L121.35,127.71 L122.04,128.57 L122.73,129.42 L123.43,130.26 L124.13,131.09 L124.83,131.92 L125.54,132.75 L126.25,133.56 L126.97,134.37 L127.69,135.18 L128.41,135.98 L129.14,136.77 L129.87,137.56 L130.61,138.34 L131.35,139.11 L132.09,139.88 L132.84,140.64 L133.59,141.40 L134.34,142.15 L135.10,142.90 L135.86,143.64 L136.63,144.38 L137.40,145.11 L138.17,145.84 L138.95,146.56 L139.73,147.27 L140.52,147.98 L141.31,148.69 L142.10,149.39 L142.90,150.08 L143.70,150.77 L144.50,151.46 L145.31,152.14 L146.12,152.82 L146.94,153.49 L147.76,154.15 L148.58,154.82 L149.41,155.47 L150.24,156.13 L151.08,156.77 L151.91,157.42 L152.76,158.06 L153.60,158.69 L154.45,159.32 L155.31,159.95 L156.17,160.57 L157.03,161.19 L157.89,161.80 L158.76,162.41 L159.64,163.02 L160.51,163.62 L161.39,164.22 L162.28,164.81 L163.17,165.40 L164.06,165.99 L164.96,166.57 L165.86,167.15 L166.76,167.72 L167.67,168.29 L168.58,168.86 L169.49,169.42 L170.41,169.98 L171.34,170.54 L172.26,171.09 L173.19,171.64 L174.13,172.19 L175.07,172.73 L176.01,173.27 L176.95,173.80 L177.90,174.33 L178.86,174.86 L179.81,175.39 L180.77,175.91 L181.74,176.43 L182.71,176.94 L183.68,177.46 L184.66,177.96 L185.64,178.47 L186.62,178.97 L187.61,179.47 L188.60,179.97 L189.60,180.46 L190.59,180.95 L191.60,181.44 L192.60,181.92 L193.61,182.40 L194.63,182.88 L195.65,183.36 L196.67,183.83 L197.69,184.30 L198.72,184.77 L199.76,185.23 L200.79,185.69 L201.84,186.15 L202.88,186.61 L203.93,187.06 L204.98,187.51 L206.04,187.96 L207.10,188.41 L208.16,188.85 L209.23,189.29 L210.30,189.73 L211.38,190.16 L212.45,190.59 L213.54,191.02 L214.62,191.45 L215.71,191.88 L216.81,192.30 L217.91,192.72 L219.01,193.14 L220.11,193.55 L221.22,193.97 L222.34,194.38 L223.45,194.78 L224.57,195.19 L225.70,195.59 L226.83,196.00 L227.96,196.40 L229.09,196.79 L229.91,194.43 L228.77,194.04 L227.64,193.66 L226.51,193.27 L225.39,192.88 L224.27,192.49 L223.16,192.10 L222.05,191.70 L220.94,191.30 L219.84,190.90 L218.74,190.50 L217.64,190.09 L216.55,189.69 L215.46,189.28 L214.38,188.86 L213.30,188.45 L212.22,188.03 L211.15,187.61 L210.08,187.19 L209.01,186.76 L207.95,186.33 L206.89,185.90 L205.84,185.47 L204.79,185.03 L203.74,184.59 L202.70,184.15 L201.66,183.71 L200.63,183.26 L199.60,182.81 L198.57,182.36 L197.55,181.90 L196.53,181.44 L195.51,180.98 L194.50,180.52 L193.49,180.05 L192.48,179.58 L191.48,179.11 L190.49,178.63 L189.49,178.15 L188.50,177.67 L187.52,177.18 L186.54,176.69 L185.56,176.20 L184.59,175.71 L183.61,175.21 L182.65,174.71 L181.69,174.20 L180.73,173.69 L179.77,173.18 L178.82,172.67 L177.87,172.15 L176.93,171.63 L175.99,171.11 L175.05,170.58 L174.12,170.05 L173.19,169.51 L172.27,168.97 L171.35,168.43 L170.43,167.88 L169.51,167.33 L168.60,166.78 L167.70,166.22 L166.80,165.66 L165.90,165.10 L165.00,164.53 L164.11,163.96 L163.23,163.38 L162.34,162.80 L161.46,162.21 L160.59,161.63 L159.72,161.03 L158.85,160.44 L157.98,159.84 L157.12,159.23 L156.27,158.62 L155.41,158.01 L154.56,157.39 L153.72,156.77 L152.88,156.14 L152.04,155.51 L151.21,154.88 L150.38,154.24 L149.55,153.59 L148.73,152.94 L147.91,152.29 L147.09,151.63 L146.28,150.97 L145.47,150.30 L144.67,149.63 L143.87,148.95 L143.07,148.27 L142.28,147.58 L141.49,146.89 L140.71,146.19 L139.93,145.49 L139.15,144.78 L138.38,144.07 L137.61,143.35 L136.84,142.63 L136.08,141.90 L135.32,141.16 L134.56,140.42 L133.81,139.68 L133.07,138.93 L132.32,138.17 L131.58,137.41 L130.85,136.64 L130.11,135.86 L129.39,135.08 L128.66,134.30 L127.94,133.50 L127.22,132.70 L126.51,131.90 L125.80,131.09 L125.10,130.27 L124.39,129.45 L123.70,128.62 L123.00,127.78 L122.31,126.94 L121.62,126.09 L120.94,125.23 L120.26,124.37 L119.59,123.50 L118.91,122.62 L118.25,121.73 L117.58,120.84 L116.92,119.94 L116.26,119.04 L115.61,118.12 L114.96,117.20 L114.32,116.27 L113.67,115.34 L113.04,114.39 L112.40,113.44 L111.77,112.48 L111.15,111.51 L110.52,110.54 L109.91,109.55 L109.29,108.56 L108.69,107.56 L108.08,106.55 L107.48,105.53 L106.88,104.50 L106.29,103.46 L105.70,102.42 L105.12,101.36 L104.53,100.30 L103.96,99.23 L103.38,98.15 L102.81,97.06 L102.24,95.96 L101.68,94.85 L101.12,93.73 L100.57,92.60 L100.01,91.46 L99.47,90.31 L98.92,89.15 L98.38,87.99 L97.84,86.81 L97.31,85.62 L96.78,84.42 L96.26,83.20 L95.74,81.98 L95.22,80.75 L94.70,79.51 L94.19,78.25 L93.69,76.98 L93.19,75.70 L92.69,74.41 L92.19,73.11 L91.70,71.80 L91.21,70.47 L90.73,69.14 L90.25,67.78 L89.77,66.42 L89.30,65.05 L88.83,63.66 L88.37,62.26 L87.91,60.84 L87.45,59.41 L86.99,57.97 L86.55,56.52 L86.10,55.05 L85.66,53.56 L85.22,52.07 L84.78,50.55 L84.35,49.03 L83.93,47.49 L83.50,45.93 L83.08,44.36 L82.67,42.77 L82.26,41.17 L81.85,39.55 L81.44,37.92 L81.04,36.27 L80.65,34.61 L80.25,32.93 L79.86,31.23 L79.48,29.51 L79.10,27.78 L78.72,26.03 L78.35,24.27 L77.98,22.48 L77.61,20.68 L77.25,18.86 L76.89,17.02 L76.53,15.17 L76.18,13.29 L75.83,11.40 L75.49,9.49 L75.15,7.55 L74.81,5.60 L74.48,3.63 L74.15,1.64 L73.83,-0.37 L73.51,-2.40 L73.19,-4.45 Z" fill="#676767"/><path d="M76.00,8.44 L76.51,11.56 L77.03,14.57 L77.54,17.45 L78.05,20.22 L78.57,22.88 L79.08,25.44 L79.59,27.90 L80.11,30.28 L80.62,32.57 L81.13,34.78 L81.65,36.92 L82.16,38.99 L82.67,40.98 L83.19,42.91 L83.70,44.79 L84.21,46.61 L84.73,48.36 L85.24,50.07 L85.75,51.73 L86.27,53.34 L86.78,54.90 L87.29,56.42 L87.81,57.90 L88.32,59.34 L88.83,60.74 L89.35,62.10 L89.86,63.42 L90.37,64.72 L90.89,65.98 L91.40,67.21 L91.91,68.41 L92.43,69.58 L92.94,70.72 L93.45,71.84 L93.97,72.93 L94.48,73.99 L94.99,75.03 L95.51,76.05 L96.02,77.05 L96.54,78.02 L97.05,78.97 L97.56,79.90 L98.08,80.82 L98.59,81.71 L99.10,82.59 L99.62,83.45 L100.13,84.29 L100.64,85.11 L101.16,85.92 L101.67,86.71 L102.18,87.49 L102.70,88.25 L103.21,88.99 L103.72,89.73 L104.24,90.45 L104.75,91.16 L105.26,91.85 L105.78,92.54 L106.29,93.21 L106.80,93.87 L107.32,94.52 L107.83,95.16 L108.34,95.79 L108.86,96.42 L109.37,97.03 L109.88,97.63 L110.40,98.22 L110.91,98.81 L111.42,99.39 L111.94,99.96 L112.45,100.52 L112.96,101.07 L113.48,101.61 L113.99,102.15 L114.50,102.68 L115.02,103.20 L115.53,103.71 L116.04,104.22 L116.56,104.72 L117.07,105.21 L117.58,105.70 L118.10,106.18 L118.61,106.65 L119.12,107.12 L119.64,107.58 L120.15,108.03 L120.66,108.48 L121.18,108.92 L121.69,109.35 L122.20,109.78 L122.72,110.20 L123.23,110.62 L123.74,111.03 L124.26,111.43 L124.77,111.83 L125.28,112.23 L125.80,112.61 L126.31,113.00 L126.82,113.41 L127.34,113.83 L127.85,114.26 L128.36,114.71 L128.88,115.16 L129.39,115.63 L129.90,116.10 L130.42,116.57 L130.93,117.05 L131.44,117.53 L131.96,118.01 L132.47,118.48 L132.98,118.95 L133.50,119.42 L134.01,119.87 L134.53,120.34 L135.04,120.83 L135.55,121.34 L136.07,121.85 L136.58,122.37 L137.09,122.89 L137.61,123.39 L138.12,123.86 L138.63,124.31 L139.15,124.72 L139.66,125.08 L140.17,125.39 L140.69,125.68 L141.20,125.97 L141.71,126.25 L142.23,126.52 L142.74,126.79 L143.25,127.05 L143.77,127.31 L144.28,127.56 L144.79,127.81 L145.31,128.05 L145.82,128.29 L146.33,128.52 L146.85,128.75 L147.36,128.98 L147.87,129.19 L148.39,129.41 L148.90,129.62 L149.41,129.82 L149.93,130.03 L150.44,130.23 L150.95,130.42 L151.47,130.61 L151.98,130.81 L152.49,130.99 L153.01,131.18 L153.52,131.37 L154.03,131.55 L154.55,131.73 L155.06,131.91 L155.57,132.08 L156.09,132.26 L156.60,132.43 L157.11,132.60 L157.63,132.76 L158.14,132.93 L158.65,133.09 L159.17,133.24 L159.68,133.40 L160.19,133.55 L160.71,133.70 L161.22,133.85 L161.73,134.00 L162.25,134.15 L162.76,134.29 L163.27,134.43 L163.79,134.58 L164.30,134.71 L164.81,134.85 L165.33,134.98 L165.84,135.12 L166.35,135.25 L166.87,135.38 L167.38,135.51 L167.89,135.64 L168.41,135.76 L168.92,135.89 L169.43,136.01 L169.95,136.14 L170.46,136.26 L170.97,136.38 L171.49,136.51 L172.00,136.63 L172.52,136.75 L173.03,136.87 L173.54,137.00 L174.06,137.12 L174.57,137.24 L175.08,137.36 L175.60,137.48 L176.11,137.60 L176.62,137.72 L177.14,137.84 L177.65,137.96 L178.16,138.07 L178.68,138.19 L179.19,138.30 L179.70,138.42 L180.22,138.53 L180.73,138.64 L181.24,138.75 L181.76,138.85 L182.27,138.96 L182.78,139.07 L183.30,139.17 L183.81,139.27 L184.32,139.38 L184.84,139.48 L185.35,139.58 L185.86,139.67 L186.38,139.77 L186.89,139.87 L187.40,139.96 L187.92,140.05 L188.43,140.15 L188.94,140.24 L189.46,140.33 L189.97,140.42 L190.48,140.50 L191.00,140.59 L191.51,140.68 L192.02,140.76 L192.54,140.84 L193.05,140.93 L193.56,141.01 L194.08,141.09 L194.59,141.17 L195.10,141.24 L195.62,141.32 L196.13,141.39 L196.64,141.46 L197.16,141.53 L197.67,141.60 L198.18,141.66 L198.70,141.73 L199.21,141.79 L199.72,141.85 L200.24,141.91 L200.75,141.96 L201.26,142.02 L201.78,142.07 L202.29,142.13 L202.80,142.18 L203.32,142.23 L203.83,142.29 L204.34,142.34 L204.86,142.39 L205.37,142.44 L205.88,142.49 L206.40,142.54 L206.91,142.60 L207.42,142.65 L207.94,142.70 L208.45,142.75 L208.96,142.81 L209.48,142.86 L209.99,142.92 L210.51,142.97 L211.02,143.03 L211.53,143.08 L212.05,143.14 L212.56,143.19 L213.07,143.25 L213.59,143.30 L214.10,143.36 L214.61,143.41 L215.13,143.46 L215.64,143.52 L216.15,143.57 L216.67,143.62 L217.18,143.67 L217.69,143.73 L218.21,143.78 L218.72,143.83 L219.23,143.88 L219.75,143.93 L220.26,143.99 L220.77,144.04 L221.29,144.09 L221.80,144.14 L222.31,144.19 L222.83,144.24 L223.34,144.29 L223.85,144.35 L224.37,144.40 L224.88,144.45 L225.39,144.50 L225.91,144.55 L226.42,144.60 L226.93,144.65 L227.45,144.70 L227.96,144.75 L228.47,144.80 L228.99,144.86 L229.50,144.91 L229.50,154.70 L228.99,154.62 L228.47,154.54 L227.96,154.45 L227.45,154.37 L226.93,154.29 L226.42,154.20 L225.91,154.12 L225.39,154.03 L224.88,153.95 L224.37,153.86 L223.85,153.77 L223.34,153.69 L222.83,153.60 L222.31,153.51 L221.80,153.42 L221.29,153.33 L220.77,153.24 L220.26,153.15 L219.75,153.06 L219.23,152.97 L218.72,152.88 L218.21,152.79 L217.69,152.70 L217.18,152.60 L216.67,152.51 L216.15,152.42 L215.64,152.32 L215.13,152.23 L214.61,152.13 L214.10,152.03 L213.59,151.94 L213.07,151.84 L212.56,151.74 L212.05,151.64 L211.53,151.54 L211.02,151.44 L210.51,151.34 L209.99,151.24 L209.48,151.14 L208.96,151.04 L208.45,150.94 L207.94,150.83 L207.42,150.73 L206.91,150.63 L206.40,150.52 L205.88,150.41 L205.37,150.31 L204.86,150.20 L204.34,150.09 L203.83,149.99 L203.32,149.88 L202.80,149.77 L202.29,149.66 L201.78,149.55 L201.26,149.43 L200.75,149.32 L200.24,149.21 L199.72,149.09 L199.21,148.98 L198.70,148.86 L198.18,148.75 L197.67,148.63 L197.16,148.51 L196.64,148.40 L196.13,148.28 L195.62,148.16 L195.10,148.04 L194.59,147.91 L194.08,147.79 L193.56,147.67 L193.05,147.55 L192.54,147.42 L192.02,147.30 L191.51,147.17 L191.00,147.04 L190.48,146.91 L189.97,146.79 L189.46,146.66 L188.94,146.52 L188.43,146.39 L187.92,146.26 L187.40,146.13 L186.89,145.99 L186.38,145.86 L185.86,145.72 L185.35,145.59 L184.84,145.45 L184.32,145.31 L183.81,145.17 L183.30,145.03 L182.78,144.89 L182.27,144.74 L181.76,144.60 L181.24,144.45 L180.73,144.31 L180.22,144.16 L179.70,144.01 L179.19,143.86 L178.68,143.71 L178.16,143.56 L177.65,143.41 L177.14,143.25 L176.62,143.10 L176.11,142.94 L175.60,142.79 L175.08,142.63 L174.57,142.47 L174.06,142.31 L173.54,142.14 L173.03,141.98 L172.52,141.82 L172.00,141.65 L171.49,141.49 L170.97,141.32 L170.46,141.17 L169.95,141.01 L169.43,140.85 L168.92,140.70 L168.41,140.55 L167.89,140.40 L167.38,140.25 L166.87,140.10 L166.35,139.95 L165.84,139.80 L165.33,139.65 L164.81,139.50 L164.30,139.35 L163.79,139.19 L163.27,139.03 L162.76,138.87 L162.25,138.71 L161.73,138.54 L161.22,138.37 L160.71,138.20 L160.19,138.02 L159.68,137.84 L159.17,137.65 L158.65,137.46 L158.14,137.27 L157.63,137.07 L157.11,136.88 L156.60,136.68 L156.09,136.48 L155.57,136.27 L155.06,136.07 L154.55,135.86 L154.03,135.65 L153.52,135.44 L153.01,135.22 L152.49,135.01 L151.98,134.79 L151.47,134.57 L150.95,134.35 L150.44,134.13 L149.93,133.90 L149.41,133.68 L148.90,133.46 L148.39,133.24 L147.87,133.02 L147.36,132.80 L146.85,132.57 L146.33,132.35 L145.82,132.12 L145.31,131.88 L144.79,131.65 L144.28,131.41 L143.77,131.16 L143.25,130.90 L142.74,130.64 L142.23,130.37 L141.71,130.10 L141.20,129.81 L140.69,129.50 L140.17,129.18 L139.66,128.82 L139.15,128.44 L138.63,128.04 L138.12,127.61 L137.61,127.18 L137.09,126.74 L136.58,126.28 L136.07,125.82 L135.55,125.37 L135.04,124.91 L134.53,124.46 L134.01,124.02 L133.50,123.60 L132.98,123.18 L132.47,122.78 L131.96,122.37 L131.44,121.96 L130.93,121.54 L130.42,121.13 L129.90,120.71 L129.39,120.29 L128.88,119.87 L128.36,119.45 L127.85,119.03 L127.34,118.61 L126.82,118.19 L126.31,117.78 L125.80,117.36 L125.28,116.95 L124.77,116.53 L124.26,116.10 L123.74,115.67 L123.23,115.23 L122.72,114.79 L122.20,114.34 L121.69,113.89 L121.18,113.43 L120.66,112.96 L120.15,112.49 L119.64,112.01 L119.12,111.53 L118.61,111.03 L118.10,110.53 L117.58,110.03 L117.07,109.52 L116.56,109.00 L116.04,108.47 L115.53,107.93 L115.02,107.39 L114.50,106.84 L113.99,106.28 L113.48,105.71 L112.96,105.14 L112.45,104.56 L111.94,103.96 L111.42,103.36 L110.91,102.75 L110.40,102.13 L109.88,101.50 L109.37,100.86 L108.86,100.21 L108.34,99.55 L107.83,98.87 L107.32,98.19 L106.80,97.49 L106.29,96.79 L105.78,96.07 L105.26,95.34 L104.75,94.60 L104.24,93.84 L103.72,93.07 L103.21,92.29 L102.70,91.50 L102.18,90.69 L101.67,89.87 L101.16,89.03 L100.64,88.18 L100.13,87.31 L99.62,86.42 L99.10,85.52 L98.59,84.60 L98.08,83.66 L97.56,82.70 L97.05,81.73 L96.54,80.74 L96.02,79.72 L95.51,78.69 L94.99,77.63 L94.48,76.56 L93.97,75.46 L93.45,74.34 L92.94,73.19 L92.43,72.02 L91.91,70.82 L91.40,69.60 L90.89,68.34 L90.37,67.06 L89.86,65.75 L89.35,64.41 L88.83,63.04 L88.32,61.64 L87.81,60.20 L87.29,58.72 L86.78,57.21 L86.27,55.66 L85.75,54.07 L85.24,52.43 L84.73,50.76 L84.21,49.04 L83.70,47.27 L83.19,45.45 L82.67,43.58 L82.16,41.66 L81.65,39.68 L81.13,37.64 L80.62,35.54 L80.11,33.38 L79.59,31.14 L79.08,28.84 L78.57,26.46 L78.05,24.00 L77.54,21.46 L77.03,18.83 L76.51,16.10 L76.00,13.29 Z" fill="#949494"/><path d="M203.13,143.02 V141.26 M213.52,144.09 V143.47 M180.71,139.43 V136.94 M160.36,134.40 V131.70 M215.00,144.25 V143.42 M180.91,139.48 V138.15 M177.59,138.74 V137.05 M194.81,142.00 V140.42 M228.69,145.63 V144.89 M202.93,142.99 V141.10 M174.86,138.11 V136.96 M202.27,142.93 V142.31 M162.46,135.01 V133.00 M192.17,141.58 V139.32 M203.42,143.04 V141.82 M194.28,141.92 V140.84 M160.81,134.54 V133.23 M207.75,143.48 V142.77 M185.50,140.40 V139.65 M217.27,144.48 V143.99 M178.46,138.94 V136.39 M195.18,142.05 V140.00 M204.14,143.12 V141.62 M166.31,136.04 V134.00 M195.04,142.03 V139.94 M184.93,140.29 V138.42 M164.09,135.46 V133.74 M182.29,139.77 V138.70 M216.33,144.39 V143.67 M227.53,145.51 V144.88 M201.75,142.87 V141.40 M206.68,143.37 V142.70 M190.38,141.29 V140.16 M187.77,140.83 V139.92" stroke="#a0a0a0" stroke-width="0.9"/><path d="M222.59,146.56 h1.17 M172.53,139.08 h2.29 M159.87,136.35 h2.24 M217.79,145.03 h1.77 M164.43,136.85 h2.38 M163.54,136.79 h2.30 M192.73,142.70 h1.44 M167.96,138.41 h0.86 M185.08,141.17 h1.73 M206.35,144.28 h0.84 M152.28,133.85 h1.01 M199.33,143.85 h1.53 M215.46,145.68 h1.39 M201.28,144.06 h1.40 M207.39,143.95 h2.35 M220.01,146.47 h0.81 M210.79,144.84 h1.03 M211.14,145.30 h0.82 M209.48,145.31 h1.67 M166.98,137.13 h1.14 M163.46,137.38 h1.39 M193.00,142.46 h1.38 M221.40,147.06 h1.56 M188.66,142.98 h1.69 M205.71,144.33 h1.79 M215.86,146.38 h1.50 M155.15,133.98 h1.53 M221.32,146.70 h1.23 M200.74,144.22 h2.02 M222.87,146.04 h1.37" stroke="#dcdcdc" stroke-width="0.9"/><path d="M198.02,139.53 V138.26 M198.41,139.61 V135.88 M223.19,143.80 V141.47 M213.85,142.36 V138.92 M213.49,142.30 V138.18 M202.11,140.31 V136.10 M208.40,141.44 V137.81 M215.09,142.56 V140.23 M192.44,138.40 V136.43 M220.18,143.35 V138.07 M218.83,143.15 V140.96 M226.08,144.22 V138.50 M224.67,144.02 V139.72 M226.17,144.24 V142.11 M191.20,138.13 V137.15 M199.98,139.91 V138.00 M197.41,139.41 V136.74 M191.54,138.21 V135.87 M196.56,139.24 V136.32 M190.83,138.06 V136.42 M227.06,144.37 V139.83 M222.06,143.64 V138.90 M214.12,142.40 V140.08 M212.69,142.17 V140.48 M221.67,143.58 V137.52 M223.73,143.89 V141.81 M203.38,140.55 V138.26 M194.45,138.82 V136.19 M221.50,143.55 V140.38 M224.08,143.94 V138.40" stroke="#8c8c8c" stroke-width="1"/><path d="M74.27,-3.80 L74.61,-1.39 L74.95,0.97 L75.29,3.29 L75.64,5.56 L75.99,7.79 L76.35,9.97 L76.71,12.12 L77.07,14.22 L77.44,16.28 L77.81,18.31 L78.18,20.30 L78.56,22.25 L78.94,24.16 L79.33,26.04 L79.72,27.89 L80.11,29.70 L80.51,31.48 L80.91,33.23 L81.31,34.95 L81.72,36.63 L82.14,38.29 L82.55,39.92 L82.97,41.52 L83.40,43.09 L83.82,44.63 L84.26,46.15 L84.69,47.64 L85.13,49.11 L85.57,50.55 L86.02,51.97 L86.47,53.36 L86.92,54.73 L87.38,56.08 L87.84,57.40 L88.31,58.71 L88.78,59.99 L89.25,61.25 L89.73,62.49 L90.21,63.71 L90.70,64.91 L91.18,66.09 L91.68,67.26 L92.17,68.40 L92.67,69.53 L93.18,70.64 L93.68,71.73 L94.20,72.80 L94.71,73.86 L95.23,74.90 L95.75,75.93 L96.28,76.94 L96.81,77.93 L97.34,78.91 L97.88,79.88 L98.42,80.83 L98.97,81.76 L99.52,82.69 L100.07,83.59 L100.63,84.49 L101.19,85.37 L101.75,86.24 L102.32,87.10 L102.89,87.94 L103.47,88.77 L104.05,89.59 L104.63,90.40 L105.22,91.20 L105.81,91.98 L106.41,92.76 L107.01,93.53 L107.61,94.29 L108.22,95.04 L108.83,95.78 L109.44,96.51 L110.06,97.23 L110.68,97.95 L111.30,98.66 L111.93,99.35 L112.57,100.04 L113.20,100.73 L113.84,101.40 L114.49,102.06 L115.14,102.72 L115.79,103.37 L116.44,104.01 L117.10,104.65 L117.77,105.27 L118.43,105.89 L119.11,106.50 L119.78,107.11 L120.46,107.70 L121.14,108.29 L121.83,108.87 L122.52,109.44 L123.21,110.00 L123.91,110.56 L124.61,111.11 L125.32,111.65 L126.03,112.19 L126.74,112.72 L127.46,113.24 L128.18,113.76 L128.90,114.28 L129.63,114.78 L130.36,115.29 L131.10,115.78 L131.83,116.27 L132.58,116.76 L133.33,117.24 L134.08,117.71 L134.83,118.17 L135.59,118.63 L136.35,119.08 L137.12,119.52 L137.89,119.95 L138.66,120.38 L139.44,120.80 L140.22,121.20 L141.01,121.60 L141.79,122.00 L142.59,122.38 L143.38,122.75 L144.18,123.12 L144.99,123.48 L145.80,123.83 L146.61,124.18 L147.42,124.52 L148.24,124.86 L149.07,125.19 L149.89,125.51 L150.72,125.83 L151.56,126.15 L152.40,126.46 L153.24,126.77 L154.08,127.08 L154.93,127.39 L155.79,127.69 L156.64,127.98 L157.51,128.27 L158.37,128.55 L159.24,128.83 L160.11,129.11 L160.99,129.38 L161.87,129.64 L162.75,129.90 L163.64,130.16 L164.53,130.41 L165.43,130.67 L166.33,130.92 L167.23,131.16 L168.14,131.41 L169.05,131.66 L169.96,131.90 L170.88,132.15 L171.80,132.39 L172.73,132.64 L173.66,132.89 L174.59,133.14 L175.53,133.39 L176.47,133.64 L177.41,133.89 L178.36,134.13 L179.31,134.37 L180.27,134.61 L181.23,134.85 L182.19,135.09 L183.16,135.32 L184.13,135.55 L185.11,135.78 L186.09,136.00 L187.07,136.23 L188.06,136.45 L189.05,136.67 L190.04,136.89 L191.04,137.10 L192.04,137.31 L193.05,137.53 L194.06,137.73 L195.07,137.94 L196.09,138.15 L197.11,138.35 L198.13,138.55 L199.16,138.75 L200.19,138.95 L201.23,139.15 L202.27,139.34 L203.31,139.54 L204.36,139.73 L205.41,139.92 L206.47,140.10 L207.52,140.29 L208.59,140.48 L209.65,140.66 L210.72,140.84 L211.80,141.02 L212.88,141.20 L213.96,141.38 L215.04,141.55 L216.13,141.73 L217.23,141.90 L218.32,142.07 L219.42,142.24 L220.53,142.41 L221.64,142.57 L222.75,142.74 L223.86,142.90 L224.98,143.07 L226.11,143.23 L227.23,143.39 L228.37,143.55 L229.50,143.71" stroke="#4c4c4c" stroke-width="1.3"/></g><g clip-path="url(#cr)" fill="none" stroke-linejoin="round" stroke-linecap="round"><path d="M536.61,-2.87 L536.68,-2.06 L536.74,-1.25 L536.81,-0.43 L536.87,0.38 L536.93,1.19 L536.99,2.00 L537.05,2.81 L537.11,3.62 L537.17,4.44 L537.23,5.25 L537.29,6.06 L537.35,6.87 L537.41,7.68 L537.46,8.49 L537.52,9.30 L537.58,10.12 L537.63,10.93 L537.69,11.74 L537.74,12.55 L537.79,13.36 L537.85,14.17 L537.90,14.98 L537.95,15.79 L538.00,16.61 L538.06,17.42 L538.11,18.23 L538.16,19.04 L538.21,19.85 L538.26,20.66 L538.31,21.47 L538.36,22.29 L538.41,23.10 L538.46,23.91 L538.51,24.72 L538.55,25.53 L538.60,26.34 L538.65,27.15 L538.70,27.97 L538.75,28.78 L538.80,29.59 L538.85,30.40 L538.89,31.21 L538.94,32.03 L538.99,32.84 L539.04,33.65 L539.09,34.46 L539.13,35.28 L539.18,36.09 L539.23,36.90 L539.28,37.71 L539.33,38.53 L539.38,39.34 L539.42,40.15 L539.47,40.97 L539.52,41.78 L539.57,42.59 L539.62,43.41 L539.67,44.22 L539.72,45.03 L539.77,45.85 L539.82,46.66 L539.87,47.48 L539.92,48.29 L539.98,49.11 L540.03,49.92 L540.08,50.74 L540.13,51.55 L540.19,52.37 L540.24,53.18 L540.30,54.00 L540.35,54.81 L540.40,55.63 L540.46,56.45 L540.52,57.26 L540.57,58.08 L540.63,58.90 L540.69,59.71 L540.75,60.53 L540.81,61.35 L540.87,62.16 L540.93,62.98 L540.99,63.80 L541.05,64.62 L541.11,65.44 L541.18,66.26 L541.24,67.08 L541.31,67.89 L541.37,68.71 L541.44,69.53 L541.51,70.35 L541.58,71.17 L541.64,72.00 L541.71,72.82 L541.79,73.64 L541.86,74.46 L541.93,75.28 L542.00,76.10 L542.08,76.92 L542.16,77.75 L542.23,78.57 L542.31,79.39 L542.39,80.22 L542.47,81.04 L542.55,81.86 L542.63,82.69 L542.72,83.51 L542.80,84.34 L542.89,85.16 L542.98,85.99 L543.06,86.81 L543.15,87.64 L543.24,88.47 L543.34,89.29 L543.43,90.12 L543.52,90.95 L543.62,91.78 L543.72,92.61 L543.82,93.43 L543.92,94.26 L544.02,95.09 L544.13,95.92 L544.23,96.75 L544.34,97.57 L544.45,98.40 L544.56,99.23 L544.68,100.05 L544.80,100.88 L544.92,101.71 L545.04,102.53 L545.17,103.35 L545.30,104.18 L545.43,105.00 L545.56,105.82 L545.70,106.64 L545.84,107.46 L545.98,108.28 L546.13,109.09 L546.28,109.91 L546.44,110.72 L546.60,111.53 L546.76,112.34 L546.92,113.15 L547.09,113.96 L547.27,114.76 L547.44,115.57 L547.63,116.37 L547.81,117.17 L548.00,117.96 L548.20,118.76 L548.40,119.55 L548.60,120.34 L548.81,121.13 L549.03,121.91 L549.25,122.70 L549.47,123.48 L549.70,124.25 L549.94,125.03 L550.18,125.80 L550.42,126.57 L550.67,127.33 L550.93,128.09 L551.19,128.85 L551.46,129.61 L551.73,130.36 L552.01,131.11 L552.30,131.86 L552.59,132.60 L552.89,133.34 L553.20,134.07 L553.51,134.80 L553.83,135.53 L554.15,136.25 L554.48,136.97 L554.82,137.69 L555.17,138.40 L555.52,139.11 L555.88,139.81 L556.25,140.51 L556.62,141.20 L557.00,141.89 L557.39,142.57 L557.79,143.25 L558.19,143.93 L558.61,144.60 L559.03,145.26 L559.45,145.92 L559.89,146.58 L560.34,147.23 L560.79,147.87 L561.25,148.51 L561.72,149.15 L562.20,149.78 L562.68,150.40 L563.18,151.02 L563.68,151.63 L564.20,152.24 L564.72,152.84 L565.25,153.43 L565.79,154.02 L566.34,154.60 L566.90,155.18 L567.47,155.75 L568.05,156.32 L568.63,156.87 L569.23,157.42 L569.84,157.97 L570.46,158.51 L571.08,159.04 L571.72,159.57 L572.37,160.08 L573.03,160.60 L573.70,161.10 L574.37,161.60 L575.06,162.09 L575.76,162.57 L576.48,163.05 L577.20,163.52 L577.93,163.98 L578.67,164.43" stroke="#858585" stroke-width="1"/><path d="M538.22,-2.74 L538.29,-2.33 L538.36,-1.92 L538.42,-1.51 L538.48,-1.10 L538.54,-0.68 L538.59,-0.26 L538.64,0.16 L538.69,0.59 L538.74,1.02 L538.78,1.45 L538.82,1.89 L538.86,2.33 L538.89,2.77 L538.93,3.21 L538.96,3.66 L538.99,4.11 L539.01,4.56 L539.04,5.01 L539.06,5.47 L539.08,5.93 L539.10,6.39 L539.11,6.85 L539.13,7.32 L539.14,7.79 L539.15,8.26 L539.16,8.73 L539.17,9.20 L539.17,9.68 L539.18,10.16 L539.18,10.64 L539.18,11.12 L539.18,11.60 L539.18,12.09 L539.18,12.57 L539.18,13.06 L539.17,13.55 L539.17,14.05 L539.16,14.54 L539.16,15.03 L539.15,15.53 L539.14,16.03 L539.13,16.53 L539.13,17.03 L539.12,17.53 L539.11,18.03 L539.10,18.53 L539.09,19.04 L539.08,19.54 L539.07,20.05 L539.06,20.56 L539.05,21.06 L539.04,21.57 L539.02,22.08 L539.01,22.59 L539.01,23.11 L539.00,23.62 L538.99,24.13 L538.98,24.64 L538.97,25.16 L538.96,25.67 L538.96,26.18 L538.95,26.70 L538.95,27.21 L538.94,27.73 L538.94,28.24 L538.94,28.76 L538.93,29.27 L538.93,29.79 L538.93,30.30 L538.94,30.82 L538.94,31.33 L538.95,31.85 L538.95,32.36 L538.96,32.88 L538.97,33.39 L538.98,33.90 L538.99,34.42 L539.01,34.93 L539.03,35.44 L539.04,35.95 L539.07,36.46 L539.09,36.98 L539.11,37.48 L539.14,37.99 L539.17,38.50 L539.20,39.01 L539.23,39.51 L539.27,40.02 L539.31,40.52 L539.35,41.03 L539.40,41.53 L539.44,42.03 L539.49,42.53 L539.55,43.03 L539.60,43.52 L539.66,44.02 L539.72,44.51 L539.79,45.01 L539.85,45.50 L539.92,45.99 L540.00,46.48 L540.08,46.96 L540.16,47.45 L540.24,47.93 L540.33,48.41 L540.42,48.89 L540.52,49.37 L540.62,49.84 L540.72,50.32 L540.83,50.79 L540.94,51.26 L541.06,51.72 L541.18,52.19 L541.30,52.65 L541.43,53.11 L541.56,53.57 L541.70,54.02 L541.84,54.48 L541.98,54.93 L542.13,55.38 L542.29,55.82 L542.45,56.26 L542.61,56.70 L542.78,57.14 L542.95,57.58 L543.13,58.01 L543.32,58.44 L543.51,58.86 L543.70,59.28 L543.90,59.70 L544.10,60.12 L544.31,60.53 L544.53,60.94 L544.75,61.35 L544.98,61.76 L545.21,62.16 L545.44,62.55 L545.68,62.95 L545.93,63.34 L546.18,63.72 L546.44,64.11 L546.70,64.49 L546.97,64.86 L547.24,65.24 L547.52,65.61 L547.80,65.97 L548.08,66.33 L548.37,66.69 L548.67,67.05 L548.97,67.40 L549.28,67.74 L549.59,68.08 L549.90,68.42 L550.22,68.76 L550.55,69.09 L550.88,69.42 L551.21,69.74 L551.55,70.06 L551.89,70.37 L552.24,70.68 L552.59,70.99 L552.95,71.29 L553.31,71.58 L553.67,71.88 L554.04,72.17 L554.41,72.45 L554.79,72.73 L555.17,73.00 L555.56,73.27 L555.95,73.54 L556.35,73.80 L556.74,74.06 L557.15,74.31 L557.55,74.56 L557.96,74.80 L558.38,75.03 L558.80,75.27 L559.22,75.49 L559.65,75.72 L560.08,75.94 L560.51,76.15 L560.95,76.36 L561.39,76.56 L561.84,76.76 L562.29,76.95 L562.74,77.13 L563.20,77.32 L563.66,77.49 L564.13,77.66 L564.60,77.83 L565.07,77.99 L565.54,78.14 L566.02,78.29 L566.50,78.44 L566.99,78.58 L567.48,78.71 L567.97,78.84 L568.47,78.96 L568.97,79.07 L569.47,79.18 L569.97,79.29 L570.48,79.39 L570.99,79.48 L571.51,79.56 L572.03,79.65 L572.55,79.72 L573.07,79.79 L573.60,79.85 L574.13,79.91 L574.67,79.96 L575.20,80.00 L575.74,80.04 L576.29,80.07 L576.83,80.10 L577.38,80.12 L577.93,80.13 L578.48,80.14 L579.04,80.14 L579.60,80.13" stroke="#6e6e6e" stroke-width="1.6"/><path d="M544.16,-5.07 L544.40,-2.83 L544.65,-0.63 L544.91,1.54 L545.16,3.68 L545.42,5.79 L545.68,7.87 L545.95,9.92 L546.22,11.95 L546.49,13.94 L546.76,15.91 L547.04,17.84 L547.32,19.76 L547.60,21.64 L547.89,23.50 L548.17,25.33 L548.47,27.13 L548.76,28.91 L549.06,30.66 L549.36,32.39 L549.66,34.10 L549.97,35.78 L550.28,37.44 L550.59,39.07 L550.90,40.68 L551.22,42.27 L551.54,43.83 L551.86,45.38 L552.19,46.90 L552.52,48.40 L552.85,49.88 L553.19,51.34 L553.52,52.78 L553.87,54.20 L554.21,55.60 L554.56,56.98 L554.91,58.34 L555.26,59.68 L555.62,61.00 L555.97,62.31 L556.34,63.60 L556.70,64.87 L557.07,66.12 L557.44,67.35 L557.81,68.57 L558.19,69.77 L558.57,70.96 L558.95,72.13 L559.33,73.28 L559.72,74.42 L560.11,75.54 L560.51,76.65 L560.90,77.74 L561.30,78.82 L561.70,79.89 L562.11,80.94 L562.52,81.97 L562.93,82.99 L563.34,84.00 L563.76,85.00 L564.18,85.98 L564.60,86.95 L565.03,87.91 L565.46,88.85 L565.89,89.78 L566.33,90.71 L566.76,91.61 L567.20,92.51 L567.65,93.39 L568.09,94.27 L568.54,95.13 L569.00,95.98 L569.45,96.82 L569.91,97.65 L570.37,98.47 L570.83,99.28 L571.30,100.08 L571.77,100.87 L572.24,101.65 L572.72,102.42 L573.20,103.18 L573.68,103.93 L574.16,104.67 L574.65,105.40 L575.14,106.12 L575.63,106.84 L576.13,107.54 L576.63,108.24 L577.13,108.93 L577.64,109.61 L578.15,110.28 L578.66,110.94 L579.17,111.60 L579.69,112.25 L580.21,112.89 L580.73,113.49 L581.25,114.07 L581.78,114.65 L582.31,115.22 L582.85,115.78 L583.39,116.33 L583.93,116.88 L584.47,117.41 L585.01,117.95 L585.56,118.48 L586.12,119.02 L586.67,119.57 L587.23,120.12 L587.79,120.67 L588.35,121.23 L588.92,121.79 L589.49,122.34 L590.06,122.89 L590.64,123.44 L591.21,124.01 L591.79,124.62 L592.38,125.25 L592.97,125.89 L593.56,126.52 L594.15,127.14 L594.74,127.74 L595.34,128.30 L595.94,128.80 L596.55,129.25 L597.16,129.64 L597.77,130.02 L598.38,130.38 L599.00,130.72 L599.62,131.06 L600.24,131.38 L600.86,131.71 L601.49,132.04 L602.12,132.36 L602.76,132.68 L603.39,133.01 L604.03,133.34 L604.67,133.66 L605.32,133.99 L605.97,134.31 L606.62,134.63 L607.27,134.94 L607.93,135.25 L608.59,135.55 L609.25,135.85 L609.92,136.15 L610.59,136.43 L611.26,136.72 L611.94,136.99 L612.61,137.24 L613.29,137.49 L613.98,137.73 L614.66,137.97 L615.35,138.20 L616.05,138.43 L616.74,138.66 L617.44,138.89 L618.14,139.12 L618.85,139.36 L619.55,139.60 L620.26,139.86 L620.97,140.12 L621.69,140.38 L622.41,140.64 L623.13,140.90 L623.86,141.15 L624.58,141.40 L625.31,141.64 L626.05,141.88 L626.78,142.12 L627.52,142.36 L628.26,142.60 L629.01,142.83 L629.76,143.06 L630.51,143.28 L631.26,143.51 L632.02,143.73 L632.78,143.95 L633.54,144.16 L634.31,144.37 L635.08,144.59 L635.85,144.79 L636.62,145.00 L637.40,145.20 L638.18,145.41 L638.96,145.60 L639.75,145.80 L640.54,146.00 L641.33,146.19 L642.12,146.38 L642.92,146.57 L643.72,146.75 L644.53,146.94 L645.33,147.12 L646.14,147.30 L646.95,147.47 L647.77,147.65 L648.59,147.82 L649.41,147.99 L650.23,148.16 L651.06,148.30 L651.89,148.45 L652.72,148.59 L653.56,148.73 L654.40,148.87 L655.24,149.01 L656.08,149.15 L656.93,149.28 L657.78,149.41 L658.63,149.54 L659.49,149.67 L660.35,149.79 L661.21,149.92 L662.08,150.04 L662.95,150.16 L663.82,150.28 L664.69,150.40 L664.69,157.40 L663.82,157.21 L662.95,157.02 L662.08,156.83 L661.21,156.64 L660.35,156.45 L659.49,156.26 L658.63,156.06 L657.78,155.86 L656.93,155.66 L656.08,155.46 L655.24,155.26 L654.40,155.05 L653.56,154.85 L652.72,154.64 L651.89,154.43 L651.06,154.22 L650.23,154.01 L649.41,153.78 L648.59,153.54 L647.77,153.30 L646.95,153.06 L646.14,152.82 L645.33,152.58 L644.53,152.33 L643.72,152.09 L642.92,151.84 L642.12,151.58 L641.33,151.33 L640.54,151.08 L639.75,150.82 L638.96,150.56 L638.18,150.30 L637.40,150.04 L636.62,149.77 L635.85,149.50 L635.08,149.23 L634.31,148.96 L633.54,148.69 L632.78,148.41 L632.02,148.13 L631.26,147.85 L630.51,147.57 L629.76,147.28 L629.01,146.99 L628.26,146.70 L627.52,146.41 L626.78,146.11 L626.05,145.81 L625.31,145.51 L624.58,145.21 L623.86,144.90 L623.13,144.59 L622.41,144.28 L621.69,143.97 L620.97,143.65 L620.26,143.33 L619.55,143.02 L618.85,142.71 L618.14,142.42 L617.44,142.13 L616.74,141.85 L616.05,141.56 L615.35,141.28 L614.66,140.99 L613.98,140.70 L613.29,140.41 L612.61,140.11 L611.94,139.79 L611.26,139.47 L610.59,139.14 L609.92,138.80 L609.25,138.45 L608.59,138.10 L607.93,137.74 L607.27,137.38 L606.62,137.01 L605.97,136.64 L605.32,136.27 L604.67,135.89 L604.03,135.52 L603.39,135.14 L602.76,134.76 L602.12,134.39 L601.49,134.02 L600.86,133.64 L600.24,133.26 L599.62,132.88 L599.00,132.50 L598.38,132.11 L597.77,131.70 L597.16,131.28 L596.55,130.83 L595.94,130.34 L595.34,129.79 L594.74,129.18 L594.15,128.54 L593.56,127.87 L592.97,127.19 L592.38,126.51 L591.79,125.83 L591.21,125.18 L590.64,124.55 L590.06,123.96 L589.49,123.36 L588.92,122.76 L588.35,122.16 L587.79,121.56 L587.23,120.96 L586.67,120.37 L586.12,119.78 L585.56,119.19 L585.01,118.61 L584.47,118.04 L583.93,117.46 L583.39,116.87 L582.85,116.27 L582.31,115.67 L581.78,115.06 L581.25,114.44 L580.73,113.82 L580.21,113.19 L579.69,112.55 L579.17,111.90 L578.66,111.24 L578.15,110.58 L577.64,109.91 L577.13,109.23 L576.63,108.54 L576.13,107.84 L575.63,107.14 L575.14,106.42 L574.65,105.70 L574.16,104.97 L573.68,104.23 L573.20,103.48 L572.72,102.72 L572.24,101.95 L571.77,101.17 L571.30,100.38 L570.83,99.58 L570.37,98.77 L569.91,97.95 L569.45,97.12 L569.00,96.28 L568.54,95.43 L568.09,94.57 L567.65,93.69 L567.20,92.81 L566.76,91.91 L566.33,91.01 L565.89,90.08 L565.46,89.15 L565.03,88.21 L564.60,87.25 L564.18,86.28 L563.76,85.30 L563.34,84.30 L562.93,83.29 L562.52,82.27 L562.11,81.24 L561.70,80.19 L561.30,79.12 L560.90,78.04 L560.51,76.95 L560.11,75.84 L559.72,74.72 L559.33,73.58 L558.95,72.43 L558.57,71.26 L558.19,70.07 L557.81,68.87 L557.44,67.65 L557.07,66.42 L556.70,65.17 L556.34,63.90 L555.97,62.61 L555.62,61.30 L555.26,59.98 L554.91,58.64 L554.56,57.28 L554.21,55.90 L553.87,54.50 L553.52,53.08 L553.19,51.64 L552.85,50.18 L552.52,48.70 L552.19,47.20 L551.86,45.68 L551.54,44.13 L551.22,42.57 L550.90,40.98 L550.59,39.37 L550.28,37.74 L549.97,36.08 L549.66,34.40 L549.36,32.69 L549.06,30.96 L548.76,29.21 L548.47,27.43 L548.17,25.63 L547.89,23.80 L547.60,21.94 L547.32,20.06 L547.04,18.14 L546.76,16.21 L546.49,14.24 L546.22,12.25 L545.95,10.22 L545.68,8.17 L545.42,6.09 L545.16,3.98 L544.91,1.84 L544.65,-0.33 L544.40,-2.53 L544.16,-4.77 Z" fill="#000"/><path d="M544.16,-4.77 L544.40,-2.53 L544.65,-0.33 L544.91,1.84 L545.16,3.98 L545.42,6.09 L545.68,8.17 L545.95,10.22 L546.22,12.25 L546.49,14.24 L546.76,16.21 L547.04,18.14 L547.32,20.06 L547.60,21.94 L547.89,23.80 L548.17,25.63 L548.47,27.43 L548.76,29.21 L549.06,30.96 L549.36,32.69 L549.66,34.40 L549.97,36.08 L550.28,37.74 L550.59,39.37 L550.90,40.98 L551.22,42.57 L551.54,44.13 L551.86,45.68 L552.19,47.20 L552.52,48.70 L552.85,50.18 L553.19,51.64 L553.52,53.08 L553.87,54.50 L554.21,55.90 L554.56,57.28 L554.91,58.64 L555.26,59.98 L555.62,61.30 L555.97,62.61 L556.34,63.90 L556.70,65.17 L557.07,66.42 L557.44,67.65 L557.81,68.87 L558.19,70.07 L558.57,71.26 L558.95,72.43 L559.33,73.58 L559.72,74.72 L560.11,75.84 L560.51,76.95 L560.90,78.04 L561.30,79.12 L561.70,80.19 L562.11,81.24 L562.52,82.27 L562.93,83.29 L563.34,84.30 L563.76,85.30 L564.18,86.28 L564.60,87.25 L565.03,88.21 L565.46,89.15 L565.89,90.08 L566.33,91.01 L566.76,91.91 L567.20,92.81 L567.65,93.69 L568.09,94.57 L568.54,95.43 L569.00,96.28 L569.45,97.12 L569.91,97.95 L570.37,98.77 L570.83,99.58 L571.30,100.38 L571.77,101.17 L572.24,101.95 L572.72,102.72 L573.20,103.48 L573.68,104.23 L574.16,104.97 L574.65,105.70 L575.14,106.42 L575.63,107.14 L576.13,107.84 L576.63,108.54 L577.13,109.23 L577.64,109.91 L578.15,110.58 L578.66,111.24 L579.17,111.90 L579.69,112.55 L580.21,113.19 L580.73,113.82 L581.25,114.44 L581.78,115.06 L582.31,115.67 L582.85,116.27 L583.39,116.87 L583.93,117.46 L584.47,118.04 L585.01,118.61 L585.56,119.19 L586.12,119.78 L586.67,120.37 L587.23,120.96 L587.79,121.56 L588.35,122.16 L588.92,122.76 L589.49,123.36 L590.06,123.96 L590.64,124.55 L591.21,125.18 L591.79,125.83 L592.38,126.51 L592.97,127.19 L593.56,127.87 L594.15,128.54 L594.74,129.18 L595.34,129.79 L595.94,130.34 L596.55,130.83 L597.16,131.28 L597.77,131.70 L598.38,132.11 L599.00,132.50 L599.62,132.88 L600.24,133.26 L600.86,133.64 L601.49,134.02 L602.12,134.39 L602.76,134.76 L603.39,135.14 L604.03,135.52 L604.67,135.89 L605.32,136.27 L605.97,136.64 L606.62,137.01 L607.27,137.38 L607.93,137.74 L608.59,138.10 L609.25,138.45 L609.92,138.80 L610.59,139.14 L611.26,139.47 L611.94,139.79 L612.61,140.11 L613.29,140.41 L613.98,140.70 L614.66,140.99 L615.35,141.28 L616.05,141.56 L616.74,141.85 L617.44,142.13 L618.14,142.42 L618.85,142.71 L619.55,143.02 L620.26,143.33 L620.97,143.65 L621.69,143.97 L622.41,144.28 L623.13,144.59 L623.86,144.90 L624.58,145.21 L625.31,145.51 L626.05,145.81 L626.78,146.11 L627.52,146.41 L628.26,146.70 L629.01,146.99 L629.76,147.28 L630.51,147.57 L631.26,147.85 L632.02,148.13 L632.78,148.41 L633.54,148.69 L634.31,148.96 L635.08,149.23 L635.85,149.50 L636.62,149.77 L637.40,150.04 L638.18,150.30 L638.96,150.56 L639.75,150.82 L640.54,151.08 L641.33,151.33 L642.12,151.58 L642.92,151.84 L643.72,152.09 L644.53,152.33 L645.33,152.58 L646.14,152.82 L646.95,153.06 L647.77,153.30 L648.59,153.54 L649.41,153.78 L650.23,154.01 L651.06,154.22 L651.89,154.43 L652.72,154.64 L653.56,154.85 L654.40,155.05 L655.24,155.26 L656.08,155.46 L656.93,155.66 L657.78,155.86 L658.63,156.06 L659.49,156.26 L660.35,156.45 L661.21,156.64 L662.08,156.83 L662.95,157.02 L663.82,157.21 L664.69,157.40" stroke="#000" stroke-width="1.3"/><path d="M542.94,-3.88 L543.17,-1.63 L543.42,0.59 L543.66,2.79 L543.91,4.97 L544.16,7.12 L544.41,9.25 L544.67,11.35 L544.93,13.43 L545.19,15.49 L545.45,17.52 L545.72,19.54 L545.99,21.53 L546.27,23.50 L546.54,25.45 L546.82,27.37 L547.11,29.28 L547.39,31.17 L547.68,33.03 L547.97,34.88 L548.27,36.71 L548.56,38.52 L548.86,40.31 L549.17,42.08 L549.47,43.84 L549.78,45.57 L550.10,47.29 L550.41,48.99 L550.73,50.67 L551.05,52.34 L551.37,53.99 L551.70,55.62 L552.03,57.24 L552.36,58.84 L552.70,60.42 L553.04,61.99 L553.38,63.55 L553.72,65.09 L554.07,66.61 L554.42,68.12 L554.77,69.61 L555.13,71.09 L555.49,72.56 L555.85,74.01 L556.22,75.45 L556.58,76.87 L556.95,78.29 L557.33,79.68 L557.70,81.07 L558.08,82.44 L558.47,83.80 L558.85,85.15 L559.24,86.48 L559.63,87.81 L560.03,89.12 L560.42,90.42 L560.82,91.70 L561.23,92.98 L561.63,94.24 L562.04,95.50 L562.46,96.74 L562.87,97.97 L563.29,99.19 L563.71,100.40 L564.13,101.60 L564.56,102.79 L564.99,103.96 L565.42,105.13 L565.86,106.29 L566.30,107.44 L566.74,108.58 L567.18,109.70 L567.63,110.82 L568.08,111.93 L568.53,113.03 L568.99,114.12 L569.45,115.21 L569.91,116.28 L570.38,117.34 L570.84,118.40 L571.32,119.45 L571.79,120.48 L572.27,121.51 L572.74,122.54 L573.22,123.55 L573.70,124.56 L574.19,125.56 L574.68,126.55 L575.17,127.53 L575.66,128.50 L576.16,129.47 L576.66,130.43 L577.17,131.38 L577.67,132.33 L578.18,133.27 L578.69,134.20 L579.21,135.12 L579.73,136.03 L580.25,136.94 L580.77,137.85 L581.30,138.74 L581.83,139.63 L582.36,140.51 L582.90,141.39 L583.44,142.26 L583.98,143.12 L584.52,143.97 L585.07,144.82 L585.62,145.67 L586.17,146.50 L586.73,147.33 L587.29,148.16 L587.85,148.98 L588.42,149.79 L588.98,150.60 L589.56,151.40 L590.13,152.20 L590.71,152.99 L591.29,153.77 L591.87,154.55 L592.46,155.32 L593.04,156.09 L593.64,156.85 L594.23,157.61 L594.83,158.36 L595.43,159.11 L596.03,159.85 L596.64,160.58 L597.25,161.32 L597.86,162.04 L598.48,162.76 L599.10,163.48 L599.72,164.19 L600.34,164.90 L600.97,165.60 L601.60,166.29 L602.23,166.99 L602.87,167.67 L603.51,168.36 L604.15,169.04 L604.80,169.71 L605.44,170.38 L606.10,171.04 L606.75,171.70 L607.41,172.36 L608.07,173.01 L608.73,173.66 L609.39,174.30 L610.06,174.94 L610.73,175.58 L611.41,176.21 L612.09,176.84 L612.77,177.46 L613.45,178.08 L614.14,178.69 L614.83,179.31 L615.52,179.91 L616.21,180.52 L616.91,181.12 L617.61,181.71 L618.32,182.30 L619.03,182.89 L619.74,183.48 L620.45,184.06 L621.16,184.64 L621.88,185.21 L622.61,185.78 L623.33,186.35 L624.06,186.91 L624.79,187.47 L625.52,188.03 L626.26,188.58 L627.00,189.13 L627.74,189.68 L628.49,190.22 L629.23,190.76 L629.98,191.30 L630.73,191.83 L631.49,192.37 L632.24,192.91 L633.00,193.46 L633.76,194.01 L634.53,194.57 L635.30,195.12 L636.07,195.68 L636.84,196.24 L637.62,196.80 L638.40,197.36 L639.19,197.92 L639.97,198.49 L640.77,199.04 L641.56,199.60 L642.36,200.16 L643.16,200.71 L643.96,201.26 L644.77,201.80 L645.58,202.34 L646.40,202.88 L647.22,203.41 L648.04,203.93 L648.87,204.44 L649.69,204.95 L650.52,205.45 L651.35,205.95 L652.19,206.44 L653.02,206.93 L653.86,207.42 L654.71,207.91 L655.55,208.39 L656.40,208.87 L657.25,209.34 L658.11,209.82 L658.96,210.29 L659.82,210.75 L660.69,211.22 L661.56,211.68 L662.42,212.13 L663.30,212.59 L664.17,213.04 L665.21,210.98 L664.33,210.55 L663.47,210.11 L662.60,209.67 L661.74,209.22 L660.88,208.78 L660.02,208.33 L659.16,207.87 L658.31,207.41 L657.46,206.95 L656.61,206.49 L655.77,206.02 L654.93,205.55 L654.09,205.08 L653.26,204.60 L652.43,204.12 L651.60,203.64 L650.77,203.15 L649.95,202.66 L649.13,202.17 L648.32,201.66 L647.51,201.15 L646.70,200.64 L645.89,200.11 L645.09,199.58 L644.28,199.05 L643.48,198.51 L642.69,197.97 L641.89,197.43 L641.10,196.88 L640.31,196.33 L639.52,195.78 L638.74,195.23 L637.95,194.68 L637.17,194.13 L636.40,193.58 L635.62,193.04 L634.85,192.49 L634.08,191.95 L633.31,191.41 L632.55,190.87 L631.79,190.34 L631.03,189.81 L630.28,189.29 L629.53,188.76 L628.79,188.23 L628.05,187.70 L627.31,187.16 L626.57,186.62 L625.84,186.08 L625.11,185.53 L624.38,184.98 L623.66,184.43 L622.94,183.87 L622.22,183.31 L621.50,182.75 L620.79,182.18 L620.08,181.61 L619.37,181.03 L618.67,180.45 L617.97,179.87 L617.27,179.28 L616.57,178.69 L615.88,178.10 L615.19,177.50 L614.50,176.90 L613.82,176.29 L613.14,175.68 L612.46,175.07 L611.79,174.45 L611.12,173.83 L610.45,173.20 L609.78,172.57 L609.12,171.93 L608.46,171.29 L607.80,170.65 L607.14,170.00 L606.49,169.35 L605.84,168.69 L605.20,168.03 L604.55,167.36 L603.91,166.69 L603.28,166.02 L602.64,165.34 L602.01,164.65 L601.38,163.96 L600.76,163.27 L600.13,162.57 L599.51,161.86 L598.90,161.15 L598.28,160.44 L597.67,159.72 L597.06,159.00 L596.46,158.27 L595.86,157.53 L595.26,156.79 L594.66,156.04 L594.07,155.29 L593.48,154.54 L592.89,153.77 L592.30,153.01 L591.72,152.23 L591.14,151.45 L590.56,150.67 L589.99,149.88 L589.42,149.08 L588.85,148.28 L588.29,147.47 L587.73,146.66 L587.17,145.84 L586.61,145.01 L586.06,144.18 L585.51,143.34 L584.96,142.49 L584.42,141.64 L583.87,140.78 L583.34,139.91 L582.80,139.04 L582.27,138.16 L581.74,137.28 L581.21,136.38 L580.69,135.48 L580.16,134.58 L579.65,133.66 L579.13,132.74 L578.62,131.81 L578.11,130.88 L577.60,129.93 L577.10,128.98 L576.60,128.02 L576.10,127.06 L575.60,126.08 L575.11,125.10 L574.62,124.11 L574.14,123.11 L573.65,122.11 L573.17,121.09 L572.70,120.07 L572.23,119.03 L571.76,117.99 L571.29,116.94 L570.83,115.88 L570.37,114.81 L569.91,113.74 L569.46,112.65 L569.01,111.55 L568.56,110.45 L568.11,109.34 L567.67,108.21 L567.23,107.08 L566.79,105.93 L566.36,104.78 L565.93,103.62 L565.50,102.44 L565.08,101.26 L564.65,100.07 L564.23,98.86 L563.82,97.65 L563.40,96.42 L562.99,95.18 L562.59,93.93 L562.18,92.67 L561.78,91.40 L561.38,90.12 L560.98,88.83 L560.59,87.52 L560.20,86.20 L559.81,84.87 L559.43,83.53 L559.05,82.17 L558.67,80.80 L558.29,79.42 L557.92,78.03 L557.55,76.62 L557.18,75.20 L556.82,73.77 L556.46,72.32 L556.10,70.86 L555.75,69.38 L555.39,67.89 L555.04,66.38 L554.70,64.86 L554.35,63.33 L554.01,61.78 L553.68,60.21 L553.34,58.63 L553.01,57.04 L552.68,55.42 L552.35,53.79 L552.03,52.15 L551.71,50.49 L551.39,48.81 L551.08,47.11 L550.77,45.39 L550.46,43.66 L550.15,41.91 L549.85,40.14 L549.55,38.36 L549.25,36.55 L548.96,34.72 L548.67,32.88 L548.38,31.02 L548.10,29.13 L547.81,27.23 L547.53,25.30 L547.26,23.36 L546.98,21.39 L546.71,19.40 L546.45,17.39 L546.18,15.36 L545.92,13.30 L545.66,11.23 L545.40,9.13 L545.15,7.00 L544.90,4.85 L544.65,2.68 L544.41,0.49 L544.17,-1.74 L543.93,-3.98 Z" fill="#000"/><path d="M542.83,-4.41 L543.05,-2.16 L543.28,0.07 L543.51,2.27 L543.74,4.44 L543.97,6.60 L544.20,8.72 L544.44,10.83 L544.68,12.91 L544.93,14.97 L545.17,17.01 L545.42,19.02 L545.67,21.01 L545.93,22.98 L546.18,24.93 L546.44,26.86 L546.70,28.77 L546.97,30.66 L547.23,32.53 L547.50,34.38 L547.77,36.21 L548.05,38.02 L548.33,39.81 L548.61,41.58 L548.89,43.34 L549.17,45.08 L549.46,46.80 L549.75,48.50 L550.05,50.18 L550.34,51.85 L550.64,53.50 L550.94,55.14 L551.25,56.75 L551.55,58.36 L551.86,59.94 L552.17,61.51 L552.49,63.07 L552.80,64.61 L553.12,66.13 L553.45,67.65 L553.77,69.14 L554.10,70.62 L554.43,72.09 L554.76,73.54 L555.10,74.98 L555.43,76.41 L555.78,77.82 L556.12,79.22 L556.46,80.61 L556.81,81.98 L557.16,83.34 L557.52,84.69 L557.87,86.03 L558.23,87.35 L558.60,88.66 L558.96,89.96 L559.33,91.25 L559.70,92.53 L560.07,93.79 L560.44,95.05 L560.82,96.29 L561.20,97.52 L561.59,98.74 L561.97,99.95 L562.36,101.15 L562.75,102.34 L563.14,103.52 L563.54,104.69 L563.94,105.85 L564.34,107.00 L564.74,108.14 L565.15,109.26 L565.56,110.38 L565.97,111.49 L566.39,112.59 L566.80,113.69 L567.22,114.77 L567.65,115.84 L568.07,116.91 L568.50,117.96 L568.93,119.01 L569.36,120.05 L569.79,121.08 L570.23,122.10 L570.67,123.11 L571.11,124.12 L571.55,125.12 L572.00,126.11 L572.45,127.09 L572.90,128.06 L573.35,129.03 L573.81,129.99 L574.27,130.94 L574.73,131.88 L575.20,132.82 L575.67,133.75 L576.14,134.67 L576.61,135.59 L577.08,136.49 L577.56,137.39 L578.04,138.29 L578.53,139.17 L579.01,140.05 L579.50,140.93 L579.99,141.80 L580.49,142.66 L580.99,143.51 L581.49,144.36 L581.99,145.20 L582.49,146.03 L583.00,146.86 L583.51,147.69 L584.02,148.50 L584.54,149.31 L585.06,150.12 L585.58,150.92 L586.10,151.71 L586.63,152.50 L587.15,153.28 L587.69,154.05 L588.22,154.82 L588.76,155.59 L589.30,156.35 L589.84,157.10 L590.38,157.85 L590.93,158.60 L591.48,159.33 L592.03,160.07 L592.59,160.80 L593.15,161.52 L593.71,162.24 L594.27,162.95 L594.84,163.66 L595.40,164.36 L595.97,165.06 L596.55,165.75 L597.13,166.44 L597.70,167.13 L598.29,167.80 L598.87,168.48 L599.46,169.15 L600.05,169.82 L600.64,170.48 L601.23,171.13 L601.83,171.79 L602.43,172.43 L603.04,173.08 L603.64,173.72 L604.25,174.35 L604.86,174.98 L605.47,175.61 L606.09,176.23 L606.71,176.85 L607.33,177.47 L607.95,178.08 L608.58,178.69 L609.21,179.29 L609.84,179.89 L610.48,180.48 L611.12,181.08 L611.76,181.66 L612.40,182.25 L613.04,182.83 L613.69,183.40 L614.34,183.98 L615.00,184.55 L615.65,185.11 L616.31,185.67 L616.97,186.23 L617.63,186.79 L618.30,187.34 L618.97,187.89 L619.64,188.43 L620.32,188.97 L620.99,189.51 L621.66,190.06 L622.34,190.61 L623.02,191.16 L623.71,191.72 L624.39,192.28 L625.08,192.85 L625.78,193.41 L626.47,193.98 L627.17,194.54 L627.87,195.11 L628.58,195.67 L629.29,196.23 L630.00,196.79 L630.71,197.35 L631.43,197.90 L632.15,198.44 L632.88,198.98 L633.60,199.51 L634.33,200.04 L635.07,200.55 L635.81,201.06 L636.55,201.55 L637.29,202.04 L638.04,202.50 L638.78,202.97 L639.53,203.43 L640.28,203.88 L641.03,204.33 L641.79,204.77 L642.55,205.21 L643.31,205.64 L644.07,206.07 L644.84,206.49 L645.61,206.91 L646.38,207.32 L647.16,207.73 L647.94,208.13 L648.72,208.52 L649.50,208.91 L650.29,209.29 L651.07,209.66 L651.92,207.85 L651.14,207.49 L650.36,207.12 L649.59,206.75 L648.82,206.37 L648.05,205.99 L647.28,205.60 L646.52,205.20 L645.75,204.80 L644.99,204.39 L644.24,203.98 L643.48,203.56 L642.73,203.13 L641.98,202.71 L641.23,202.27 L640.49,201.83 L639.75,201.39 L639.01,200.94 L638.27,200.49 L637.54,200.02 L636.82,199.55 L636.09,199.06 L635.37,198.57 L634.65,198.06 L633.93,197.54 L633.21,197.02 L632.49,196.49 L631.78,195.95 L631.07,195.41 L630.36,194.86 L629.65,194.31 L628.94,193.76 L628.24,193.20 L627.54,192.65 L626.84,192.09 L626.14,191.53 L625.45,190.98 L624.76,190.42 L624.07,189.87 L623.38,189.32 L622.69,188.78 L622.01,188.23 L621.33,187.70 L620.65,187.17 L619.98,186.63 L619.32,186.10 L618.65,185.56 L617.99,185.01 L617.33,184.47 L616.67,183.91 L616.01,183.36 L615.36,182.80 L614.71,182.24 L614.07,181.67 L613.42,181.11 L612.78,180.53 L612.14,179.96 L611.50,179.38 L610.87,178.79 L610.24,178.20 L609.61,177.61 L608.98,177.02 L608.36,176.42 L607.74,175.81 L607.12,175.20 L606.50,174.59 L605.89,173.97 L605.28,173.35 L604.67,172.73 L604.06,172.10 L603.46,171.47 L602.86,170.83 L602.26,170.19 L601.67,169.54 L601.08,168.89 L600.49,168.24 L599.90,167.58 L599.31,166.91 L598.73,166.24 L598.15,165.57 L597.58,164.89 L597.00,164.21 L596.43,163.52 L595.86,162.83 L595.29,162.13 L594.73,161.43 L594.17,160.72 L593.61,160.00 L593.05,159.29 L592.50,158.56 L591.95,157.84 L591.40,157.10 L590.86,156.36 L590.31,155.62 L589.77,154.87 L589.23,154.11 L588.70,153.35 L588.17,152.58 L587.64,151.81 L587.11,151.03 L586.58,150.25 L586.06,149.46 L585.54,148.67 L585.03,147.86 L584.51,147.06 L584.00,146.24 L583.49,145.42 L582.98,144.60 L582.48,143.76 L581.98,142.92 L581.48,142.08 L580.98,141.23 L580.49,140.37 L580.00,139.50 L579.51,138.63 L579.02,137.75 L578.54,136.87 L578.06,135.97 L577.58,135.08 L577.11,134.17 L576.63,133.25 L576.16,132.33 L575.70,131.40 L575.23,130.47 L574.77,129.53 L574.31,128.57 L573.85,127.62 L573.40,126.65 L572.95,125.67 L572.50,124.69 L572.05,123.70 L571.61,122.70 L571.16,121.69 L570.73,120.68 L570.29,119.66 L569.86,118.62 L569.43,117.58 L569.00,116.53 L568.58,115.47 L568.15,114.40 L567.74,113.33 L567.32,112.24 L566.91,111.14 L566.50,110.04 L566.09,108.92 L565.69,107.80 L565.28,106.66 L564.88,105.52 L564.49,104.37 L564.09,103.20 L563.70,102.03 L563.31,100.84 L562.92,99.65 L562.54,98.44 L562.16,97.23 L561.78,96.00 L561.40,94.76 L561.03,93.51 L560.66,92.25 L560.29,90.98 L559.92,89.69 L559.56,88.40 L559.20,87.09 L558.84,85.77 L558.48,84.44 L558.13,83.09 L557.78,81.74 L557.43,80.37 L557.09,78.98 L556.75,77.59 L556.41,76.18 L556.07,74.76 L555.74,73.32 L555.40,71.87 L555.07,70.41 L554.75,68.93 L554.42,67.44 L554.10,65.93 L553.78,64.41 L553.47,62.87 L553.15,61.32 L552.84,59.75 L552.53,58.17 L552.23,56.57 L551.93,54.95 L551.62,53.32 L551.33,51.67 L551.03,50.01 L550.74,48.33 L550.45,46.63 L550.16,44.91 L549.88,43.18 L549.59,41.43 L549.31,39.66 L549.04,37.87 L548.76,36.06 L548.49,34.23 L548.22,32.39 L547.96,30.52 L547.69,28.63 L547.43,26.73 L547.17,24.80 L546.92,22.85 L546.66,20.89 L546.41,18.90 L546.16,16.88 L545.92,14.85 L545.68,12.79 L545.44,10.72 L545.20,8.61 L544.96,6.49 L544.73,4.34 L544.50,2.17 L544.27,-0.03 L544.05,-2.26 L543.83,-4.50 Z" fill="#959595"/><path d="M542.32,-4.31 L542.53,-2.25 L542.74,-0.22 L542.96,1.79 L543.18,3.78 L543.40,5.76 L543.62,7.71 L543.85,9.65 L544.08,11.56 L544.31,13.46 L544.55,15.34 L544.78,17.20 L545.02,19.04 L545.27,20.86 L545.51,22.67 L545.76,24.45 L546.01,26.22 L546.26,27.98 L546.51,29.71 L546.77,31.43 L547.03,33.13 L547.29,34.82 L547.56,36.49 L547.83,38.14 L548.10,39.78 L548.37,41.40 L548.65,43.01 L548.92,44.60 L549.20,46.17 L549.49,47.73 L549.77,49.28 L550.06,50.81 L550.35,52.32 L550.64,53.82 L550.94,55.31 L551.24,56.79 L551.54,58.25 L551.84,59.69 L552.15,61.13 L552.45,62.55 L552.77,63.95 L553.08,65.34 L553.39,66.73 L553.71,68.09 L554.03,69.45 L554.36,70.79 L554.68,72.12 L555.01,73.44 L555.34,74.75 L555.68,76.04 L556.01,77.33 L556.35,78.60 L556.69,79.86 L557.04,81.11 L557.38,82.35 L557.73,83.57 L558.09,84.79 L558.44,86.00 L558.80,87.19 L559.16,88.38 L559.52,89.55 L559.88,90.71 L560.25,91.87 L560.62,93.01 L560.99,94.15 L561.36,95.27 L561.74,96.39 L562.12,97.49 L562.50,98.59 L562.89,99.67 L563.28,100.75 L563.67,101.82 L564.06,102.88 L564.45,103.93 L564.85,104.97 L565.25,106.00 L565.65,107.03 L566.06,108.05 L566.47,109.05 L566.88,110.05 L567.29,111.04 L567.70,112.03 L568.12,113.00 L568.54,113.97 L568.96,114.93 L569.38,115.89 L569.81,116.83 L570.23,117.77 L570.67,118.70 L571.10,119.62 L571.53,120.54 L571.97,121.45 L572.41,122.35 L572.86,123.24 L573.30,124.13 L573.75,125.01 L574.20,125.88 L574.66,126.75 L575.11,127.61 L575.57,128.46 L576.03,129.31 L576.50,130.15 L576.97,130.98 L577.43,131.81 L577.91,132.63 L578.38,133.45 L578.86,134.26 L579.34,135.06 L579.82,135.86 L580.30,136.65 L580.79,137.43 L581.28,138.21 L581.77,138.99 L582.27,139.76 L582.76,140.52 L583.26,141.27 L583.77,142.03 L584.27,142.77 L584.78,143.51 L585.29,144.25 L585.80,144.98 L586.32,145.70 L586.84,146.42 L587.36,147.13 L587.88,147.84 L588.41,148.55 L588.93,149.25 L589.46,149.94 L590.00,150.63 L590.53,151.31 L591.07,151.99 L591.61,152.67 L592.16,153.34 L592.70,154.00 L593.25,154.66 L593.80,155.32 L594.36,155.97 L594.91,156.62 L595.47,157.26 L596.03,157.90 L596.60,158.53 L597.16,159.16 L597.73,159.79 L598.30,160.41 L598.88,161.03 L599.45,161.64 L600.03,162.25 L600.61,162.85 L601.20,163.45 L601.79,164.05 L602.38,164.64 L602.97,165.23 L603.56,165.82 L604.16,166.40 L604.76,166.98 L605.36,167.55 L605.97,168.12 L606.57,168.68 L607.18,169.25 L607.80,169.81 L608.41,170.36 L609.03,170.91 L609.65,171.46 L610.27,172.00 L610.90,172.54 L611.53,173.08 L612.16,173.62 L612.79,174.15 L613.42,174.67 L614.06,175.20 L614.70,175.72 L615.35,176.24 L615.99,176.75 L616.64,177.26 L617.29,177.77 L617.95,178.27 L618.60,178.77 L619.26,179.27 L619.92,179.77 L620.58,180.26 L621.25,180.75 L621.92,181.24 L622.59,181.72 L623.26,182.20 L623.94,182.68 L624.62,183.15 L625.30,183.62 L625.98,184.09 L626.67,184.56 L627.36,185.02 L628.05,185.48 L628.75,185.94 L629.44,186.39 L630.14,186.84 L630.84,187.29 L631.55,187.74 L632.26,188.18 L632.96,188.63 L633.68,189.06 L634.39,189.50 L635.11,189.93 L635.83,190.37 L636.55,190.79 L637.27,191.22 L638.00,191.64 L638.73,192.07 L639.46,192.48 L640.20,192.90 L640.94,193.31 L641.68,193.73 L642.42,194.14 L643.16,194.54 L643.91,194.95 L644.66,195.35 L645.41,195.75 L646.17,196.15 L646.92,196.54 L647.89,194.68 L647.13,194.29 L646.38,193.91 L645.63,193.52 L644.88,193.13 L644.13,192.73 L643.39,192.34 L642.65,191.94 L641.91,191.54 L641.18,191.14 L640.45,190.74 L639.72,190.33 L638.99,189.92 L638.27,189.51 L637.54,189.09 L636.82,188.68 L636.11,188.26 L635.39,187.83 L634.68,187.41 L633.97,186.98 L633.26,186.55 L632.56,186.12 L631.86,185.69 L631.16,185.25 L630.46,184.81 L629.76,184.37 L629.07,183.92 L628.38,183.47 L627.70,183.02 L627.01,182.57 L626.33,182.11 L625.65,181.65 L624.97,181.19 L624.30,180.72 L623.63,180.25 L622.96,179.78 L622.29,179.31 L621.63,178.83 L620.97,178.35 L620.31,177.87 L619.65,177.38 L619.00,176.89 L618.34,176.40 L617.70,175.90 L617.05,175.40 L616.41,174.90 L615.76,174.39 L615.12,173.89 L614.49,173.37 L613.85,172.86 L613.22,172.34 L612.59,171.82 L611.97,171.29 L611.34,170.76 L610.72,170.23 L610.10,169.69 L609.49,169.15 L608.87,168.61 L608.26,168.06 L607.65,167.51 L607.05,166.96 L606.44,166.40 L605.84,165.84 L605.24,165.27 L604.65,164.70 L604.05,164.13 L603.46,163.55 L602.87,162.97 L602.29,162.38 L601.70,161.79 L601.12,161.20 L600.54,160.60 L599.97,160.00 L599.39,159.39 L598.82,158.78 L598.25,158.17 L597.69,157.55 L597.12,156.93 L596.56,156.30 L596.00,155.67 L595.45,155.03 L594.89,154.39 L594.34,153.74 L593.79,153.09 L593.25,152.44 L592.70,151.78 L592.16,151.12 L591.62,150.45 L591.09,149.77 L590.55,149.09 L590.02,148.41 L589.49,147.72 L588.97,147.03 L588.44,146.33 L587.92,145.63 L587.40,144.92 L586.89,144.20 L586.38,143.48 L585.86,142.76 L585.36,142.03 L584.85,141.29 L584.35,140.55 L583.85,139.80 L583.35,139.05 L582.85,138.29 L582.36,137.53 L581.87,136.76 L581.38,135.98 L580.89,135.20 L580.41,134.41 L579.93,133.62 L579.45,132.82 L578.97,132.01 L578.50,131.20 L578.03,130.38 L577.56,129.56 L577.09,128.72 L576.63,127.89 L576.17,127.04 L575.71,126.19 L575.26,125.33 L574.80,124.47 L574.35,123.59 L573.90,122.72 L573.46,121.83 L573.01,120.94 L572.57,120.04 L572.14,119.13 L571.70,118.21 L571.27,117.29 L570.84,116.36 L570.41,115.42 L569.98,114.48 L569.56,113.53 L569.14,112.56 L568.72,111.60 L568.30,110.62 L567.89,109.63 L567.49,108.64 L567.08,107.64 L566.68,106.62 L566.28,105.61 L565.88,104.58 L565.48,103.54 L565.09,102.49 L564.70,101.44 L564.31,100.38 L563.92,99.30 L563.54,98.22 L563.16,97.13 L562.78,96.03 L562.41,94.92 L562.03,93.80 L561.66,92.67 L561.30,91.53 L560.93,90.38 L560.57,89.22 L560.21,88.05 L559.85,86.87 L559.49,85.68 L559.14,84.48 L558.79,83.27 L558.44,82.05 L558.10,80.81 L557.76,79.57 L557.42,78.31 L557.08,77.05 L556.74,75.77 L556.41,74.48 L556.08,73.17 L555.75,71.86 L555.43,70.53 L555.10,69.19 L554.78,67.84 L554.47,66.48 L554.15,65.10 L553.84,63.71 L553.53,62.31 L553.22,60.89 L552.92,59.46 L552.61,58.02 L552.31,56.57 L552.02,55.10 L551.72,53.61 L551.43,52.11 L551.14,50.60 L550.85,49.07 L550.57,47.53 L550.29,45.98 L550.01,44.40 L549.73,42.82 L549.45,41.22 L549.18,39.60 L548.91,37.96 L548.65,36.31 L548.38,34.65 L548.12,32.97 L547.86,31.27 L547.60,29.55 L547.35,27.82 L547.10,26.07 L546.85,24.30 L546.60,22.52 L546.36,20.71 L546.11,18.89 L545.87,17.06 L545.64,15.20 L545.40,13.32 L545.17,11.43 L544.94,9.52 L544.72,7.59 L544.49,5.63 L544.27,3.66 L544.05,1.67 L543.83,-0.34 L543.62,-2.37 L543.41,-4.42 Z" fill="#727272"/><path d="M544.11,-3.09 L544.47,-0.31 L544.83,2.54 L545.19,5.44 L545.55,8.38 L545.91,11.33 L546.27,14.28 L546.63,17.20 L546.99,20.07 L547.35,22.87 L547.71,25.60 L548.07,28.24 L548.43,30.80 L548.79,33.26 L549.14,35.63 L549.50,37.90 L549.86,40.09 L550.22,42.19 L550.58,44.21 L550.94,46.16 L551.30,48.03 L551.66,49.83 L552.02,51.57 L552.38,53.24 L552.74,54.86 L553.10,56.42 L553.46,57.93 L553.82,59.39 L554.18,60.80 L554.54,62.18 L554.90,63.51 L555.26,64.80 L555.62,66.06 L555.98,67.28 L556.33,68.47 L556.69,69.63 L557.05,70.76 L557.41,71.86 L557.77,72.93 L558.13,73.98 L558.49,75.01 L558.85,76.01 L559.21,76.98 L559.57,77.94 L559.93,78.88 L560.29,79.79 L560.65,80.69 L561.01,81.57 L561.37,82.43 L561.73,83.27 L562.09,84.10 L562.45,84.92 L562.81,85.71 L563.17,86.50 L563.52,87.27 L563.88,88.03 L564.24,88.77 L564.60,89.50 L564.96,90.22 L565.32,90.92 L565.68,91.62 L566.04,92.30 L566.40,92.98 L566.76,93.64 L567.12,94.29 L567.48,94.93 L567.84,95.57 L568.20,96.19 L568.56,96.81 L568.92,97.41 L569.28,98.01 L569.64,98.60 L570.00,99.18 L570.35,99.75 L570.71,100.31 L571.07,100.87 L571.43,101.42 L571.79,101.96 L572.15,102.50 L572.51,103.02 L572.87,103.54 L573.23,104.05 L573.59,104.56 L573.95,105.06 L574.31,105.55 L574.67,106.04 L575.03,106.52 L575.39,106.99 L575.75,107.46 L576.11,107.92 L576.47,108.38 L576.83,108.83 L577.19,109.28 L577.54,109.71 L577.90,110.15 L578.26,110.58 L578.62,111.00 L578.98,111.42 L579.34,111.83 L579.70,112.24 L580.06,112.64 L580.42,113.03 L580.78,113.43 L581.14,113.81 L581.50,114.20 L581.86,114.57 L582.22,114.95 L582.58,115.32 L582.94,115.68 L583.30,116.04 L583.66,116.39 L584.02,116.75 L584.38,117.09 L584.73,117.43 L585.09,117.77 L585.45,118.10 L585.81,118.43 L586.17,118.76 L586.53,119.08 L586.89,119.40 L587.25,119.71 L587.61,120.02 L587.97,120.33 L588.33,120.63 L588.69,120.92 L589.05,121.22 L589.41,121.51 L589.77,121.80 L590.13,122.08 L590.49,122.36 L590.85,122.63 L591.21,122.91 L591.56,123.18 L591.92,123.44 L592.28,123.70 L592.64,123.96 L593.00,124.22 L593.36,124.47 L593.72,124.72 L594.08,124.96 L594.44,125.21 L594.80,125.44 L595.16,125.68 L595.52,125.91 L595.88,126.14 L596.24,126.37 L596.60,126.60 L596.96,126.82 L597.32,127.04 L597.68,127.25 L598.04,127.47 L598.40,127.68 L598.75,127.89 L599.11,128.09 L599.47,128.30 L599.83,128.50 L600.19,128.70 L600.55,128.89 L600.91,129.09 L601.27,129.28 L601.63,129.47 L601.99,129.66 L602.35,129.84 L602.71,130.03 L603.07,130.21 L603.43,130.39 L603.79,130.57 L604.15,130.74 L604.51,130.92 L604.87,131.09 L605.23,131.26 L605.59,131.43 L605.94,131.59 L606.30,131.76 L606.66,131.92 L607.02,132.08 L607.38,132.24 L607.74,132.40 L608.10,132.55 L608.46,132.71 L608.82,132.86 L609.18,133.01 L609.54,133.16 L609.90,133.31 L610.26,133.45 L610.62,133.60 L610.98,133.74 L611.34,133.88 L611.70,134.02 L612.06,134.16 L612.42,134.30 L612.77,134.43 L613.13,134.57 L613.49,134.70 L613.85,134.83 L614.21,134.96 L614.57,135.09 L614.93,135.22 L615.29,135.34 L615.65,135.47 L616.01,135.59 L616.37,135.72 L616.73,135.84 L617.09,135.96 L617.45,136.08 L617.81,136.19 L618.17,136.31 L618.53,136.42 L618.89,136.54 L619.25,136.65 L619.61,136.76 L619.96,136.88 L620.32,136.99 L620.68,137.09 L621.04,137.20 L621.40,137.31 L621.76,137.41 L622.12,137.52 L622.48,137.62 L622.84,137.73 L623.20,137.83 L623.56,137.93 L623.92,138.03 L624.28,138.13 L624.64,138.22 L625.00,138.32 L625.36,138.42 L625.72,138.51 L626.08,138.61 L626.44,138.70 L626.80,138.79 L627.15,138.89 L627.51,138.98 L627.87,139.07 L628.23,139.16 L628.59,139.24 L628.95,139.33 L629.31,139.42 L629.67,139.51 L630.03,139.59 L630.39,139.68 L630.75,139.76 L631.11,139.84 L631.47,139.93 L631.83,140.01 L632.19,140.09 L632.55,140.17 L632.91,140.25 L633.27,140.33 L633.63,140.41 L633.98,140.48 L634.34,140.56 L634.70,140.64 L635.06,140.71 L635.42,140.79 L635.78,140.86 L636.14,140.94 L636.50,141.01 L636.86,141.08 L637.22,141.16 L637.58,141.23 L637.94,141.30 L638.30,141.37 L638.66,141.44 L639.02,141.51 L639.38,141.58 L639.74,141.65 L640.10,141.72 L640.46,141.78 L640.82,141.85 L641.17,141.92 L641.53,141.98 L641.89,142.05 L642.25,142.11 L642.61,142.18 L642.97,142.24 L643.33,142.31 L643.69,142.37 L644.05,142.43 L644.41,142.50 L644.77,142.56 L645.13,142.62 L645.49,142.68 L645.85,142.74 L646.21,142.80 L646.57,142.87 L646.93,142.93 L647.29,142.99 L647.65,143.04 L648.01,143.10 L648.36,143.16 L648.72,143.22 L649.08,143.28 L649.44,143.34 L649.80,143.40 L650.16,143.45 L650.52,143.51 L650.88,143.57 L651.24,143.62 L651.60,143.67 L651.60,153.45 L651.24,153.39 L650.88,153.33 L650.52,153.26 L650.16,153.19 L649.80,153.12 L649.44,153.06 L649.08,152.99 L648.72,152.92 L648.36,152.85 L648.01,152.78 L647.65,152.71 L647.29,152.63 L646.93,152.56 L646.57,152.49 L646.21,152.41 L645.85,152.34 L645.49,152.26 L645.13,152.19 L644.77,152.11 L644.41,152.03 L644.05,151.95 L643.69,151.88 L643.33,151.80 L642.97,151.72 L642.61,151.63 L642.25,151.55 L641.89,151.47 L641.53,151.39 L641.17,151.30 L640.82,151.22 L640.46,151.13 L640.10,151.05 L639.74,150.96 L639.38,150.87 L639.02,150.78 L638.66,150.69 L638.30,150.60 L637.94,150.51 L637.58,150.42 L637.22,150.33 L636.86,150.23 L636.50,150.14 L636.14,150.04 L635.78,149.95 L635.42,149.85 L635.06,149.75 L634.70,149.66 L634.34,149.56 L633.98,149.46 L633.63,149.35 L633.27,149.25 L632.91,149.15 L632.55,149.05 L632.19,148.94 L631.83,148.84 L631.47,148.73 L631.11,148.62 L630.75,148.51 L630.39,148.41 L630.03,148.29 L629.67,148.18 L629.31,148.07 L628.95,147.96 L628.59,147.84 L628.23,147.73 L627.87,147.61 L627.51,147.50 L627.15,147.38 L626.80,147.26 L626.44,147.14 L626.08,147.02 L625.72,146.90 L625.36,146.77 L625.00,146.65 L624.64,146.52 L624.28,146.40 L623.92,146.27 L623.56,146.14 L623.20,146.01 L622.84,145.88 L622.48,145.75 L622.12,145.61 L621.76,145.48 L621.40,145.34 L621.04,145.21 L620.68,145.07 L620.32,144.93 L619.96,144.79 L619.61,144.65 L619.25,144.50 L618.89,144.36 L618.53,144.21 L618.17,144.07 L617.81,143.92 L617.45,143.77 L617.09,143.62 L616.73,143.47 L616.37,143.31 L616.01,143.16 L615.65,143.00 L615.29,142.84 L614.93,142.69 L614.57,142.52 L614.21,142.36 L613.85,142.20 L613.49,142.03 L613.13,141.87 L612.77,141.70 L612.42,141.53 L612.06,141.36 L611.70,141.19 L611.34,141.01 L610.98,140.84 L610.62,140.66 L610.26,140.48 L609.90,140.30 L609.54,140.12 L609.18,139.94 L608.82,139.75 L608.46,139.56 L608.10,139.37 L607.74,139.18 L607.38,138.99 L607.02,138.79 L606.66,138.60 L606.30,138.40 L605.94,138.20 L605.59,138.00 L605.23,137.79 L604.87,137.59 L604.51,137.38 L604.15,137.17 L603.79,136.96 L603.43,136.75 L603.07,136.53 L602.71,136.31 L602.35,136.09 L601.99,135.87 L601.63,135.65 L601.27,135.42 L600.91,135.19 L600.55,134.96 L600.19,134.73 L599.83,134.49 L599.47,134.26 L599.11,134.01 L598.75,133.77 L598.40,133.53 L598.04,133.28 L597.68,133.03 L597.32,132.78 L596.96,132.52 L596.60,132.27 L596.24,132.00 L595.88,131.74 L595.52,131.48 L595.16,131.21 L594.80,130.94 L594.44,130.66 L594.08,130.39 L593.72,130.11 L593.36,129.82 L593.00,129.54 L592.64,129.25 L592.28,128.95 L591.92,128.66 L591.56,128.36 L591.21,128.06 L590.85,127.75 L590.49,127.44 L590.13,127.13 L589.77,126.81 L589.41,126.50 L589.05,126.17 L588.69,125.85 L588.33,125.52 L587.97,125.18 L587.61,124.85 L587.25,124.51 L586.89,124.16 L586.53,123.81 L586.17,123.46 L585.81,123.11 L585.45,122.75 L585.09,122.38 L584.73,122.02 L584.38,121.65 L584.02,121.27 L583.66,120.89 L583.30,120.51 L582.94,120.12 L582.58,119.73 L582.22,119.33 L581.86,118.93 L581.50,118.52 L581.14,118.11 L580.78,117.70 L580.42,117.28 L580.06,116.86 L579.70,116.43 L579.34,116.00 L578.98,115.56 L578.62,115.11 L578.26,114.67 L577.90,114.21 L577.54,113.75 L577.19,113.29 L576.83,112.82 L576.47,112.35 L576.11,111.87 L575.75,111.38 L575.39,110.89 L575.03,110.39 L574.67,109.89 L574.31,109.38 L573.95,108.86 L573.59,108.34 L573.23,107.81 L572.87,107.28 L572.51,106.74 L572.15,106.19 L571.79,105.63 L571.43,105.07 L571.07,104.50 L570.71,103.92 L570.35,103.34 L570.00,102.75 L569.64,102.15 L569.28,101.54 L568.92,100.93 L568.56,100.30 L568.20,99.67 L567.84,99.03 L567.48,98.38 L567.12,97.72 L566.76,97.05 L566.40,96.37 L566.04,95.68 L565.68,94.98 L565.32,94.26 L564.96,93.54 L564.60,92.81 L564.24,92.06 L563.88,91.31 L563.52,90.54 L563.17,89.75 L562.81,88.96 L562.45,88.15 L562.09,87.32 L561.73,86.48 L561.37,85.63 L561.01,84.76 L560.65,83.87 L560.29,82.96 L559.93,82.03 L559.57,81.09 L559.21,80.13 L558.85,79.14 L558.49,78.13 L558.13,77.10 L557.77,76.05 L557.41,74.98 L557.05,73.87 L556.69,72.74 L556.33,71.59 L555.98,70.40 L555.62,69.18 L555.26,67.93 L554.90,66.64 L554.54,65.32 L554.18,63.96 L553.82,62.56 L553.46,61.12 L553.10,59.63 L552.74,58.10 L552.38,56.51 L552.02,54.87 L551.66,53.18 L551.30,51.43 L550.94,49.61 L550.58,47.73 L550.22,45.78 L549.86,43.76 L549.50,41.66 L549.14,39.48 L548.79,37.22 L548.43,34.88 L548.07,32.46 L547.71,29.95 L547.35,27.35 L546.99,24.69 L546.63,21.95 L546.27,19.15 L545.91,16.31 L545.55,13.44 L545.19,10.56 L544.83,7.68 L544.47,4.82 L544.11,2.01 Z" fill="#999999"/><path d="M632.75,140.61 V137.84 M648.80,143.63 V141.31 M642.22,142.51 V138.92 M642.98,142.64 V141.09 M644.08,142.84 V139.05 M647.55,143.43 V138.45 M636.97,141.51 V138.29 M648.47,143.58 V138.05 M633.44,140.77 V139.89 M643.86,142.80 V140.72 M642.01,142.47 V137.74 M638.08,141.73 V139.91 M639.72,142.05 V138.69 M632.15,140.48 V138.76" stroke="#8c8c8c" stroke-width="1"/><path d="M544.11,-3.69 L544.20,-3.03 L544.28,-2.37 L544.37,-1.71 L544.45,-1.05 L544.54,-0.39 L544.62,0.28 L544.71,0.94 L544.79,1.60 L544.87,2.27 L544.96,2.93 L545.04,3.60 L545.12,4.26 L545.20,4.93 L545.28,5.60 L545.37,6.26 L545.45,6.93 L545.53,7.60 L545.61,8.27 L545.69,8.94 L545.77,9.61 L545.85,10.28 L545.94,10.95 L546.02,11.62 L546.10,12.29 L546.18,12.96 L546.26,13.63 L546.35,14.31 L546.43,14.98 L546.51,15.65 L546.59,16.32 L546.68,17.00 L546.76,17.67 L546.85,18.35 L546.93,19.02 L547.02,19.69 L547.10,20.37 L547.19,21.04 L547.28,21.72 L547.36,22.39 L547.45,23.07 L547.54,23.74 L547.63,24.42 L547.72,25.09 L547.81,25.77 L547.90,26.44 L547.99,27.12 L548.09,27.79 L548.18,28.47 L548.28,29.14 L548.37,29.82 L548.47,30.49 L548.57,31.17 L548.66,31.84 L548.76,32.52 L548.87,33.19 L548.97,33.87 L549.07,34.54 L549.17,35.22 L549.28,35.89 L549.39,36.57 L549.49,37.24 L549.60,37.91 L549.71,38.59 L549.83,39.26 L549.94,39.93 L550.05,40.61 L550.17,41.28 L550.29,41.95 L550.40,42.62 L550.52,43.29 L550.65,43.97 L550.77,44.64 L550.89,45.31 L551.02,45.98 L551.15,46.65 L551.28,47.32 L551.41,47.98 L551.54,48.65 L551.68,49.32 L551.82,49.99 L551.96,50.66 L552.10,51.32 L552.24,51.99 L552.38,52.65 L552.53,53.32 L552.68,53.98 L552.83,54.65 L552.98,55.31 L553.14,55.97 L553.29,56.64 L553.45,57.30 L553.61,57.96 L553.78,58.62 L553.94,59.28 L554.11,59.94 L554.28,60.59 L554.45,61.25 L554.63,61.91 L554.80,62.56 L554.98,63.22 L555.16,63.87 L555.35,64.53 L555.53,65.18 L555.72,65.83 L555.92,66.48 L556.11,67.13 L556.31,67.78 L556.51,68.43 L556.71,69.08 L556.91,69.72 L557.12,70.37 L557.33,71.01 L557.55,71.66 L557.76,72.30 L557.98,72.94 L558.20,73.58 L558.43,74.22 L558.65,74.86 L558.89,75.50 L559.12,76.14 L559.36,76.77 L559.60,77.41 L559.84,78.04 L560.08,78.67 L560.33,79.30 L560.59,79.93 L560.84,80.56 L561.10,81.19 L561.36,81.82 L561.63,82.44 L561.90,83.07 L562.17,83.69 L562.44,84.31 L562.72,84.93 L563.00,85.55 L563.29,86.17 L563.58,86.78 L563.87,87.40 L564.17,88.01 L564.47,88.63 L564.77,89.24 L565.08,89.84 L565.39,90.45 L565.70,91.06 L566.02,91.66 L566.34,92.26 L566.66,92.86 L566.99,93.46 L567.32,94.06 L567.66,94.65 L568.00,95.24 L568.34,95.83 L568.68,96.42 L569.03,97.01 L569.38,97.59 L569.74,98.17 L570.10,98.75 L570.46,99.32 L570.83,99.90 L571.20,100.47 L571.58,101.04 L571.95,101.60 L572.33,102.16 L572.72,102.72 L573.11,103.28 L573.50,103.84 L573.90,104.39 L574.30,104.94 L574.70,105.48 L575.11,106.02 L575.52,106.56 L575.93,107.10 L576.35,107.63 L576.77,108.16 L577.19,108.69 L577.62,109.21 L578.06,109.73 L578.49,110.25 L578.93,110.76 L579.38,111.27 L579.82,111.77 L580.27,112.27 L580.73,112.77 L581.19,113.26 L581.65,113.75 L582.11,114.24 L582.58,114.72 L583.06,115.20 L583.53,115.67 L584.02,116.14 L584.50,116.61 L584.99,117.07 L585.48,117.53 L585.98,117.98 L586.48,118.43 L586.98,118.87 L587.49,119.31 L588.00,119.75 L588.51,120.18 L589.03,120.61 L589.55,121.03 L590.08,121.44 L590.61,121.85 L591.14,122.26 L591.68,122.66 L592.22,123.06 L592.77,123.45 L593.32,123.84 L593.87,124.22 L594.43,124.60 L594.99,124.97 L595.55,125.34 L596.12,125.70 L596.69,126.05 L597.27,126.41 L597.84,126.75 L598.43,127.10 L599.01,127.43 L599.60,127.77 L600.19,128.10 L600.78,128.42 L601.38,128.74 L601.98,129.05 L602.58,129.36 L603.19,129.67 L603.80,129.97 L604.41,130.27 L605.02,130.56 L605.64,130.85 L606.25,131.13 L606.88,131.41 L607.50,131.69 L608.12,131.96 L608.75,132.23 L609.38,132.49 L610.01,132.75 L610.65,133.01 L611.29,133.26 L611.92,133.51 L612.56,133.75 L613.20,133.99 L613.85,134.23 L614.49,134.46 L615.14,134.69 L615.79,134.92 L616.44,135.14 L617.09,135.36 L617.74,135.57 L618.40,135.78 L619.05,135.99 L619.71,136.20 L620.37,136.40 L621.02,136.60 L621.68,136.79 L622.34,136.98 L623.01,137.17 L623.67,137.36 L624.33,137.54 L625.00,137.72 L625.66,137.90 L626.33,138.07 L626.99,138.24 L627.66,138.41 L628.33,138.58 L628.99,138.74 L629.66,138.90 L630.33,139.06 L631.00,139.22 L631.67,139.37 L632.33,139.52 L633.00,139.67 L633.67,139.82 L634.34,139.96 L635.01,140.10 L635.68,140.24 L636.35,140.38 L637.01,140.52 L637.68,140.65 L638.35,140.78 L639.01,140.91 L639.68,141.04 L640.35,141.16 L641.01,141.29 L641.68,141.41 L642.34,141.53 L643.00,141.65 L643.66,141.77 L644.32,141.88 L644.98,142.00 L645.64,142.11 L646.30,142.22 L646.96,142.33 L647.61,142.44 L648.27,142.55 L648.92,142.65 L649.57,142.76 L650.22,142.86 L650.87,142.97 L651.52,143.07" stroke="#5a5a5a" stroke-width="1.15"/><path d="M544.16,-4.77 L544.40,-2.53 L544.65,-0.33 L544.91,1.84 L545.16,3.98 L545.42,6.09 L545.68,8.17 L545.95,10.22 L546.22,12.25 L546.49,14.24 L546.76,16.21 L547.04,18.14 L547.32,20.06 L547.60,21.94 L547.89,23.80 L548.17,25.63 L548.47,27.43 L548.76,29.21 L549.06,30.96 L549.36,32.69 L549.66,34.40 L549.97,36.08 L550.28,37.74 L550.59,39.37 L550.90,40.98 L551.22,42.57 L551.54,44.13 L551.86,45.68 L552.19,47.20 L552.52,48.70 L552.85,50.18 L553.19,51.64 L553.52,53.08 L553.87,54.50 L554.21,55.90 L554.56,57.28 L554.91,58.64 L555.26,59.98 L555.62,61.30 L555.97,62.61 L556.34,63.90 L556.70,65.17 L557.07,66.42 L557.44,67.65 L557.81,68.87 L558.19,70.07 L558.57,71.26 L558.95,72.43 L559.33,73.58 L559.72,74.72 L560.11,75.84 L560.51,76.95 L560.90,78.04 L561.30,79.12 L561.70,80.19 L562.11,81.24 L562.52,82.27 L562.93,83.29 L563.34,84.30 L563.76,85.30 L564.18,86.28 L564.60,87.25 L565.03,88.21 L565.46,89.15 L565.89,90.08 L566.33,91.01 L566.76,91.91 L567.20,92.81 L567.65,93.69 L568.09,94.57 L568.54,95.43 L569.00,96.28 L569.45,97.12 L569.91,97.95 L570.37,98.77 L570.83,99.58 L571.30,100.38 L571.77,101.17 L572.24,101.95 L572.72,102.72 L573.20,103.48 L573.68,104.23 L574.16,104.97 L574.65,105.70 L575.14,106.42 L575.63,107.14 L576.13,107.84 L576.63,108.54 L577.13,109.23 L577.64,109.91 L578.15,110.58 L578.66,111.24 L579.17,111.90 L579.69,112.55 L580.21,113.19 L580.73,113.82 L581.25,114.44 L581.78,115.06 L582.31,115.67 L582.85,116.27 L583.39,116.87 L583.93,117.46 L584.47,118.04 L585.01,118.61 L585.56,119.19 L586.12,119.78 L586.67,120.37 L587.23,120.96 L587.79,121.56 L588.35,122.16 L588.92,122.76 L589.49,123.36 L590.06,123.96 L590.64,124.55 L591.21,125.18 L591.79,125.83 L592.38,126.51 L592.97,127.19 L593.56,127.87 L594.15,128.54 L594.74,129.18 L595.34,129.79 L595.94,130.34 L596.55,130.83 L597.16,131.28 L597.77,131.70 L598.38,132.11 L599.00,132.50 L599.62,132.88" stroke="#000" stroke-width="1.3"/><path d="M652.30,148.02 v2.16 M654.88,148.45 v1.43 M657.46,148.86 v1.12 M659.56,149.18 v0.70 M662.50,149.60 v1.25 M664.80,149.90 v0.83" stroke="#fff" stroke-width="1.2"/></g><path d="M55.2,0 V287.4 H523.2 V0 M530.1,0 V287.4 H682.8 M48.6,277.40 H55.2 M525.0,277.40 H530.1 M48.6,199.59 H55.2 M525.0,199.59 H530.1 M48.6,144.39 H55.2 M525.0,144.39 H530.1 M48.6,101.56 H55.2 M525.0,101.56 H530.1 M48.6,66.58 H55.2 M525.0,66.58 H530.1 M48.6,36.99 H55.2 M525.0,36.99 H530.1 M48.6,11.37 H55.2 M525.0,11.37 H530.1 M62.50,287.4 V294.6 M136.25,287.4 V294.6 M210.00,287.4 V294.6 M283.75,287.4 V294.6 M357.50,287.4 V294.6 M431.25,287.4 V294.6 M505.00,287.4 V294.6 M536.40,287.4 V294.6 M559.91,287.4 V294.6 M583.42,287.4 V294.6 M606.93,287.4 V294.6 M630.44,287.4 V294.6 M653.95,287.4 V294.6 M677.46,287.4 V294.6" stroke="#5a5a5a" stroke-width="1.25" fill="none"/><path d="M682.9,0 V288" stroke="#7a7a7a" stroke-width="1.5" fill="none"/><g fill="none" stroke-linecap="butt"><path d="M232.2,144.2 L248.1,138.2" stroke="#222" stroke-width="1"/><path d="M232.2,150.6 L248.8,150.6" stroke="#8c8c8c" stroke-width="1.6"/><path d="M233,157.2 L248.5,161.7" stroke="#222" stroke-width="1"/><path d="M233.1,196 L248,193.2" stroke="#555" stroke-width="1.1"/><path d="M233,208.8 L248,206.8" stroke="#666" stroke-width="1.1"/><path d="M233,213.8 L249,218.5" stroke="#222" stroke-width="1"/></g><g font-family="Liberation Sans, sans-serif" fill="#2a2a2a" stroke="#2a2a2a" stroke-width="0.22" opacity="0.995"><text x="387.6" y="66.6" font-size="9.7" stroke-width="0.28" textLength="38.0" lengthAdjust="spacingAndGlyphs">Eval<tspan dx="0.8">.</tspan><tspan dx="0.2">MLP</tspan></text><text x="388.1" y="126.3" font-size="9.7" stroke-width="0.28" textLength="42.2" lengthAdjust="spacingAndGlyphs">Train<tspan dx="0.8">.</tspan><tspan dx="0.2">MLP</tspan></text><text x="251.5" y="140.4" font-size="9.7" stroke-width="0.28" textLength="50.4" lengthAdjust="spacingAndGlyphs">Eval<tspan dx="0.8">.</tspan><tspan dx="0.2">DNN20</tspan></text><text x="251.5" y="153.2" font-size="9.7" stroke-width="0.28" textLength="50.4" lengthAdjust="spacingAndGlyphs">Eval<tspan dx="0.8">.</tspan><tspan dx="0.2">DNN33</tspan></text><text x="251.5" y="165.8" font-size="9.7" stroke-width="0.28" textLength="50.4" lengthAdjust="spacingAndGlyphs">Eval<tspan dx="0.8">.</tspan><tspan dx="0.2">DNN50</tspan></text><text x="250.6" y="197.0" font-size="9.7" stroke-width="0.28" textLength="54.2" lengthAdjust="spacingAndGlyphs">Train<tspan dx="0.8">.</tspan><tspan dx="0.2">DNN20</tspan></text><text x="250.6" y="208.8" font-size="9.7" stroke-width="0.28" textLength="54.2" lengthAdjust="spacingAndGlyphs">Train<tspan dx="0.8">.</tspan><tspan dx="0.2">DNN33</tspan></text><text x="250.6" y="220.5" font-size="9.7" stroke-width="0.28" textLength="54.2" lengthAdjust="spacingAndGlyphs">Train<tspan dx="0.8">.</tspan><tspan dx="0.2">DNN50</tspan></text><text x="62.5" y="312.1" font-size="11" text-anchor="middle" >0</text><text x="136.25" y="312.1" font-size="11" text-anchor="middle" >1000</text><text x="210.0" y="312.1" font-size="11" text-anchor="middle" >2000</text><text x="283.75" y="312.1" font-size="11" text-anchor="middle" >3000</text><text x="357.5" y="312.1" font-size="11" text-anchor="middle" >4000</text><text x="431.25" y="312.1" font-size="11" text-anchor="middle" >5000</text><text x="505.0" y="312.1" font-size="11" text-anchor="middle" >6000</text><text x="536.4" y="312.1" font-size="11" text-anchor="middle" >0</text><text x="559.91" y="312.1" font-size="11" text-anchor="middle" >10</text><text x="583.42" y="312.1" font-size="11" text-anchor="middle" >20</text><text x="606.93" y="312.1" font-size="11" text-anchor="middle" >30</text><text x="630.44" y="312.1" font-size="11" text-anchor="middle" >40</text><text x="653.95" y="312.1" font-size="11" text-anchor="middle" >50</text><text x="677.46" y="312.1" font-size="11" text-anchor="middle" >60</text><text x="284.6" y="329.3" font-size="11" text-anchor="middle" >Epoch</text><text x="607.7" y="329.0" font-size="11" text-anchor="middle" >Elapsed time [h]</text><text x="0" y="0" font-size="11" text-anchor="middle" transform="translate(45.2,277.40) rotate(-90)">0.02</text><text x="0" y="0" font-size="11" text-anchor="middle" transform="translate(45.2,199.59) rotate(-90)">0.03</text><text x="0" y="0" font-size="11" text-anchor="middle" transform="translate(45.2,144.39) rotate(-90)">0.04</text><text x="0" y="0" font-size="11" text-anchor="middle" transform="translate(45.2,101.56) rotate(-90)">0.05</text><text x="0" y="0" font-size="11" text-anchor="middle" transform="translate(45.2,66.58) rotate(-90)">0.06</text><text x="0" y="0" font-size="11" text-anchor="middle" transform="translate(45.2,11.37) rotate(-90)">0.08</text><text x="0" y="0" font-size="11" text-anchor="middle" transform="translate(10.6,144.2) rotate(-90)">Training and Evaluation</text><text x="0" y="0" font-size="11" text-anchor="middle" transform="translate(22.3,144.6) rotate(-90)">Mean Absolute Error</text></g></svg>
</body></html>
